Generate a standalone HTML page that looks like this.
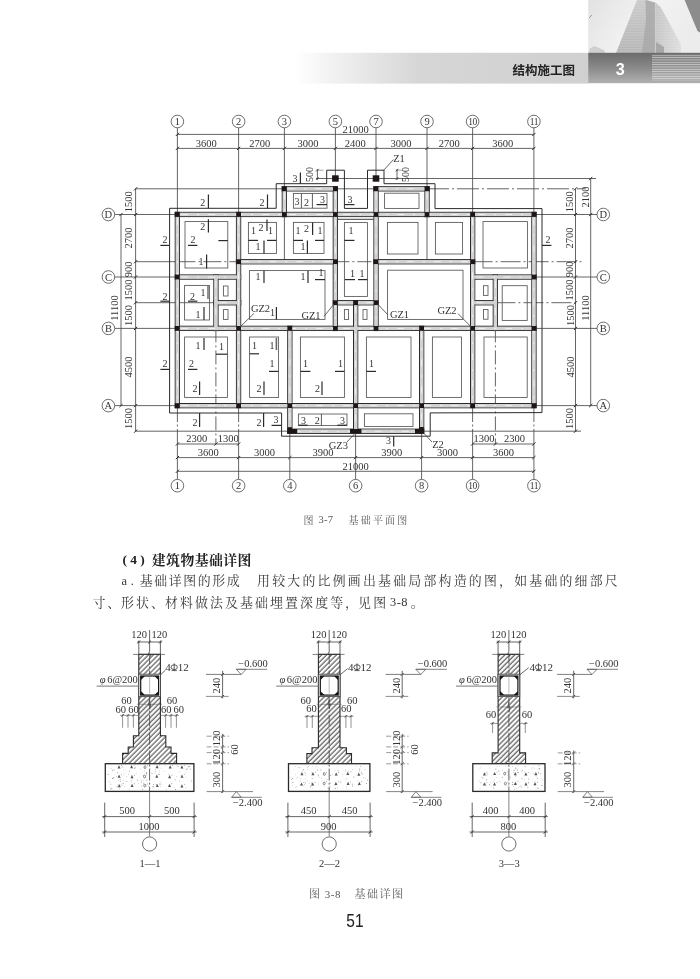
<!DOCTYPE html>
<html lang="zh"><head><meta charset="utf-8"><title>结构施工图 51</title>
<style>html,body{margin:0;padding:0;background:#fff}body{width:700px;height:979px;overflow:hidden;font-family:"Liberation Serif",serif}svg{display:block;will-change:transform;opacity:0.999}</style>
</head><body>
<svg width="700" height="979" viewBox="0 0 700 979">
<defs>
<pattern id="hatch" width="3.5" height="3.5" patternUnits="userSpaceOnUse" patternTransform="rotate(-45)"><rect width="3.5" height="3.5" fill="#fff"/><line x1="0" y1="1" x2="3.5" y2="1" stroke="#2e2e2e" stroke-width="0.95"/></pattern>
<pattern id="conc" width="14.6" height="12.4" x="3" y="766" patternUnits="userSpaceOnUse"><rect width="14.6" height="12.4" fill="#fff"/><path d="M5.2 8.3 l1.3 -2.4 l1.3 2.4 z" fill="#555"/><circle cx="2" cy="3" r="0.4" fill="#666"/><circle cx="9.5" cy="2.2" r="0.35" fill="#666"/><circle cx="12" cy="6.5" r="0.4" fill="#666"/><circle cx="3.2" cy="10.6" r="0.35" fill="#666"/><circle cx="10.4" cy="10.2" r="0.4" fill="#666"/><circle cx="7.4" cy="4.6" r="0.3" fill="#666"/><circle cx="13.2" cy="11.5" r="0.3" fill="#666"/><circle cx="1.2" cy="7.2" r="0.3" fill="#666"/><circle cx="8.8" cy="7.4" r="0.3" fill="#666"/></pattern>
<filter id="soft" x="0" y="0" width="700" height="979" filterUnits="userSpaceOnUse"><feGaussianBlur stdDeviation="0.38"/></filter>
<linearGradient id="lb" x1="0" x2="1" y1="0" y2="0"><stop offset="0" stop-color="#fff"/><stop offset="0.12" stop-color="#f2f2f2"/><stop offset="0.42" stop-color="#d6d6d6"/><stop offset="1" stop-color="#d0d0d0"/></linearGradient>
<linearGradient id="lbv" x1="0" x2="0" y1="0" y2="1"><stop offset="0" stop-color="#fff" stop-opacity="0.0"/><stop offset="0.5" stop-color="#fff" stop-opacity="0.0"/><stop offset="1" stop-color="#fff" stop-opacity="0.12"/></linearGradient>
<linearGradient id="db" x1="0" x2="0" y1="0" y2="1"><stop offset="0" stop-color="#6c6c6c"/><stop offset="0.5" stop-color="#8a8a8a"/><stop offset="1" stop-color="#b0b0b0"/></linearGradient>
<linearGradient id="sky" x1="0" x2="1" y1="0" y2="0.3"><stop offset="0" stop-color="#e2e2e2"/><stop offset="0.55" stop-color="#f3f3f3"/><stop offset="1" stop-color="#ececec"/></linearGradient>
<linearGradient id="bl" x1="0" x2="0" y1="0" y2="1"><stop offset="0" stop-color="#c9c9c9"/><stop offset="1" stop-color="#b4b4b4"/></linearGradient>
<linearGradient id="br" x1="0" x2="1" y1="0" y2="0"><stop offset="0" stop-color="#c4c4c4"/><stop offset="1" stop-color="#dedede"/></linearGradient>
<pattern id="stripes" width="4" height="2.35" patternUnits="userSpaceOnUse"><rect width="4" height="1.1" y="0.6" fill="#fff" fill-opacity="0.55"/></pattern>
<pattern id="floors" width="4" height="1.6" patternUnits="userSpaceOnUse"><rect width="4" height="0.5" fill="#fff" fill-opacity="0.25"/></pattern>
</defs>
<rect width="700" height="979" fill="#fff"/>
<g id="header">
<rect x="296" y="52.8" width="292.4" height="30.8" fill="url(#lb)"/>
<rect x="588.2" y="0" width="111.8" height="53" fill="url(#sky)"/>
<polygon points="616,53 637,0 647,0 654.6,3 654.6,53" fill="url(#bl)"/>
<polygon points="616,53 637,0 647,0 654.6,3 654.6,53" fill="url(#floors)"/>
<polygon points="645.5,0 655.4,2.6 655.6,53 642,53 646,20" fill="#a9a9a9" fill-opacity="0.85"/>
<polygon points="655.4,2.6 660.6,6.9 681,44.6 681,53 655.6,53" fill="url(#br)"/>
<polygon points="655.4,2.6 660.6,6.9 681,44.6 681,53 655.6,53" fill="url(#floors)"/>
<polygon points="656,42 664,47 664,53 656,53" fill="#a8a8a8"/>
<polygon points="684.6,0 700,0 700,32.6 697.5,31" fill="#8c8c8c"/>
<polygon points="589,53 589.6,48.5 594.6,46 599,48 604.5,50.5 605,53" fill="#cfcfcf"/>
<line x1="589" y1="18" x2="592" y2="15" stroke="#888" stroke-width="0.8"/>
<rect x="588.2" y="52.8" width="111.8" height="30.4" fill="url(#db)"/>
<rect x="652" y="54.6" width="48" height="26" fill="url(#stripes)"/>
<text x="620.3" y="75.2" font-family="Liberation Sans, sans-serif" font-size="16.2" font-weight="bold" fill="#fff" text-anchor="middle">3</text>
<text x="512.6 525.05 537.5 549.95 562.4" y="74.5" font-family="'Liberation Sans', 'Noto Sans CJK SC', sans-serif" font-size="12.5" font-weight="bold" fill="#222">结构施工图</text>
</g>
<g filter="url(#soft)">
<g id="plan">
<line x1="177.4" y1="127.8" x2="177.4" y2="214.5" stroke="#4a4a4a" stroke-width="0.85" />
<line x1="238.6" y1="127.8" x2="238.6" y2="214.5" stroke="#4a4a4a" stroke-width="0.85" />
<line x1="284.4" y1="127.8" x2="284.4" y2="261.7" stroke="#4a4a4a" stroke-width="0.85" />
<line x1="335.4" y1="127.8" x2="335.4" y2="178.5" stroke="#4a4a4a" stroke-width="0.85" />
<line x1="376.0" y1="127.8" x2="376.0" y2="178.5" stroke="#4a4a4a" stroke-width="0.85" />
<line x1="427.0" y1="127.8" x2="427.0" y2="261.7" stroke="#4a4a4a" stroke-width="0.85" />
<line x1="472.6" y1="127.8" x2="472.6" y2="214.5" stroke="#4a4a4a" stroke-width="0.85" />
<line x1="533.9" y1="127.8" x2="533.9" y2="214.5" stroke="#4a4a4a" stroke-width="0.85" />
<line x1="177.4" y1="479.4" x2="177.4" y2="444.0" stroke="#4a4a4a" stroke-width="0.85" />
<line x1="177.4" y1="444.0" x2="177.4" y2="405.6" stroke="#4a4a4a" stroke-width="0.85" stroke-dasharray="15 2.5 2 2.5"/>
<line x1="238.6" y1="479.4" x2="238.6" y2="444.0" stroke="#4a4a4a" stroke-width="0.85" />
<line x1="238.6" y1="444.0" x2="238.6" y2="405.6" stroke="#4a4a4a" stroke-width="0.85" stroke-dasharray="15 2.5 2 2.5"/>
<line x1="289.8" y1="479.4" x2="289.8" y2="444.0" stroke="#4a4a4a" stroke-width="0.85" />
<line x1="289.8" y1="444.0" x2="289.8" y2="431.2" stroke="#4a4a4a" stroke-width="0.85" stroke-dasharray="15 2.5 2 2.5"/>
<line x1="355.6" y1="479.4" x2="355.6" y2="444.0" stroke="#4a4a4a" stroke-width="0.85" />
<line x1="355.6" y1="444.0" x2="355.6" y2="431.2" stroke="#4a4a4a" stroke-width="0.85" stroke-dasharray="15 2.5 2 2.5"/>
<line x1="421.6" y1="479.4" x2="421.6" y2="444.0" stroke="#4a4a4a" stroke-width="0.85" />
<line x1="421.6" y1="444.0" x2="421.6" y2="431.2" stroke="#4a4a4a" stroke-width="0.85" stroke-dasharray="15 2.5 2 2.5"/>
<line x1="472.6" y1="479.4" x2="472.6" y2="444.0" stroke="#4a4a4a" stroke-width="0.85" />
<line x1="472.6" y1="444.0" x2="472.6" y2="405.6" stroke="#4a4a4a" stroke-width="0.85" stroke-dasharray="15 2.5 2 2.5"/>
<line x1="533.9" y1="479.4" x2="533.9" y2="444.0" stroke="#4a4a4a" stroke-width="0.85" />
<line x1="533.9" y1="444.0" x2="533.9" y2="405.6" stroke="#4a4a4a" stroke-width="0.85" stroke-dasharray="15 2.5 2 2.5"/>
<line x1="114.7" y1="214.5" x2="177.4" y2="214.5" stroke="#4a4a4a" stroke-width="0.85" />
<line x1="533.9" y1="214.5" x2="597.0" y2="214.5" stroke="#4a4a4a" stroke-width="0.85" />
<line x1="114.7" y1="328.4" x2="177.4" y2="328.4" stroke="#4a4a4a" stroke-width="0.85" />
<line x1="533.9" y1="328.4" x2="597.0" y2="328.4" stroke="#4a4a4a" stroke-width="0.85" />
<line x1="114.7" y1="405.6" x2="177.4" y2="405.6" stroke="#4a4a4a" stroke-width="0.85" />
<line x1="533.9" y1="405.6" x2="597.0" y2="405.6" stroke="#4a4a4a" stroke-width="0.85" />
<line x1="114.7" y1="277.0" x2="177.4" y2="277.0" stroke="#4a4a4a" stroke-width="0.85" />
<line x1="533.9" y1="277.0" x2="597.0" y2="277.0" stroke="#4a4a4a" stroke-width="0.85" />
<line x1="135.6" y1="188.8" x2="284.4" y2="188.8" stroke="#4a4a4a" stroke-width="0.85" />
<line x1="335.4" y1="188.8" x2="376.0" y2="188.8" stroke="#4a4a4a" stroke-width="0.85" />
<line x1="427.0" y1="188.8" x2="586.0" y2="188.8" stroke="#4a4a4a" stroke-width="0.85" stroke-dasharray="22 3 2 3"/>
<line x1="316.0" y1="178.5" x2="596.0" y2="178.5" stroke="#4a4a4a" stroke-width="0.85" />
<line x1="135.6" y1="431.2" x2="289.8" y2="431.2" stroke="#4a4a4a" stroke-width="0.85" />
<line x1="421.6" y1="431.2" x2="581.0" y2="431.2" stroke="#4a4a4a" stroke-width="0.85" />
<line x1="135.6" y1="261.7" x2="177.4" y2="261.7" stroke="#4a4a4a" stroke-width="0.85" />
<line x1="177.4" y1="261.7" x2="238.6" y2="261.7" stroke="#4a4a4a" stroke-width="0.85" stroke-dasharray="18 3 2 3"/>
<line x1="335.4" y1="261.7" x2="376.0" y2="261.7" stroke="#4a4a4a" stroke-width="0.85" stroke-dasharray="14 3 2 3"/>
<line x1="472.6" y1="261.7" x2="581.5" y2="261.7" stroke="#4a4a4a" stroke-width="0.85" stroke-dasharray="20 3 2 3"/>
<line x1="135.6" y1="302.7" x2="215.9" y2="302.7" stroke="#4a4a4a" stroke-width="0.85" />
<line x1="495.4" y1="302.7" x2="575.5" y2="302.7" stroke="#4a4a4a" stroke-width="0.85" stroke-dasharray="20 3 2 3"/>
<line x1="215.9" y1="328.4" x2="215.9" y2="444.0" stroke="#4a4a4a" stroke-width="0.85" stroke-dasharray="14 3 2 3"/>
<line x1="495.4" y1="328.4" x2="495.4" y2="444.0" stroke="#4a4a4a" stroke-width="0.85" stroke-dasharray="14 3 2 3"/>
<rect x="282.2" y="186.7" width="55.3" height="4.3" fill="#d2d2d2" stroke="#2a2a2a" stroke-width="1.0"/>
<rect x="373.9" y="186.7" width="55.3" height="4.3" fill="#d2d2d2" stroke="#2a2a2a" stroke-width="1.0"/>
<rect x="175.2" y="212.3" width="360.8" height="4.3" fill="#d2d2d2" stroke="#2a2a2a" stroke-width="1.0"/>
<rect x="236.4" y="259.6" width="101.1" height="4.3" fill="#d2d2d2" stroke="#2a2a2a" stroke-width="1.0"/>
<rect x="373.9" y="259.6" width="100.9" height="4.3" fill="#d2d2d2" stroke="#2a2a2a" stroke-width="1.0"/>
<rect x="175.2" y="274.9" width="65.5" height="4.3" fill="#d2d2d2" stroke="#2a2a2a" stroke-width="1.0"/>
<rect x="470.5" y="274.9" width="65.6" height="4.3" fill="#d2d2d2" stroke="#2a2a2a" stroke-width="1.0"/>
<rect x="213.8" y="300.6" width="27.0" height="4.3" fill="#d2d2d2" stroke="#2a2a2a" stroke-width="1.0"/>
<rect x="333.2" y="300.6" width="44.9" height="4.3" fill="#d2d2d2" stroke="#2a2a2a" stroke-width="1.0"/>
<rect x="470.5" y="300.6" width="27.1" height="4.3" fill="#d2d2d2" stroke="#2a2a2a" stroke-width="1.0"/>
<rect x="175.2" y="326.2" width="360.8" height="4.3" fill="#d2d2d2" stroke="#2a2a2a" stroke-width="1.0"/>
<rect x="175.2" y="403.5" width="360.8" height="4.3" fill="#d2d2d2" stroke="#2a2a2a" stroke-width="1.0"/>
<rect x="287.7" y="429.1" width="136.1" height="4.3" fill="#d2d2d2" stroke="#2a2a2a" stroke-width="1.0"/>
<rect x="175.2" y="212.3" width="4.3" height="195.4" fill="#d2d2d2" stroke="#2a2a2a" stroke-width="1.0"/>
<rect x="213.8" y="274.9" width="4.3" height="55.7" fill="#d2d2d2" stroke="#2a2a2a" stroke-width="1.0"/>
<rect x="236.4" y="212.3" width="4.3" height="195.4" fill="#d2d2d2" stroke="#2a2a2a" stroke-width="1.0"/>
<rect x="282.2" y="186.7" width="4.3" height="30.0" fill="#d2d2d2" stroke="#2a2a2a" stroke-width="1.0"/>
<rect x="287.7" y="326.2" width="4.3" height="107.1" fill="#d2d2d2" stroke="#2a2a2a" stroke-width="1.0"/>
<rect x="333.2" y="186.7" width="4.3" height="143.9" fill="#d2d2d2" stroke="#2a2a2a" stroke-width="1.0"/>
<rect x="353.5" y="300.6" width="4.3" height="132.8" fill="#d2d2d2" stroke="#2a2a2a" stroke-width="1.0"/>
<rect x="373.9" y="186.7" width="4.3" height="143.9" fill="#d2d2d2" stroke="#2a2a2a" stroke-width="1.0"/>
<rect x="419.5" y="326.2" width="4.3" height="107.1" fill="#d2d2d2" stroke="#2a2a2a" stroke-width="1.0"/>
<rect x="424.9" y="186.7" width="4.3" height="30.0" fill="#d2d2d2" stroke="#2a2a2a" stroke-width="1.0"/>
<rect x="470.5" y="212.3" width="4.3" height="195.4" fill="#d2d2d2" stroke="#2a2a2a" stroke-width="1.0"/>
<rect x="493.2" y="274.9" width="4.3" height="55.7" fill="#d2d2d2" stroke="#2a2a2a" stroke-width="1.0"/>
<rect x="531.8" y="212.3" width="4.3" height="195.4" fill="#d2d2d2" stroke="#2a2a2a" stroke-width="1.0"/>
<rect x="282.8" y="187.2" width="54.3" height="3.3" fill="#d2d2d2"/>
<rect x="374.4" y="187.2" width="54.3" height="3.3" fill="#d2d2d2"/>
<rect x="175.8" y="212.8" width="359.8" height="3.3" fill="#d2d2d2"/>
<rect x="236.9" y="260.1" width="100.1" height="3.3" fill="#d2d2d2"/>
<rect x="374.4" y="260.1" width="99.9" height="3.3" fill="#d2d2d2"/>
<rect x="175.8" y="275.4" width="64.5" height="3.3" fill="#d2d2d2"/>
<rect x="471.0" y="275.4" width="64.6" height="3.3" fill="#d2d2d2"/>
<rect x="214.2" y="301.1" width="26.0" height="3.3" fill="#d2d2d2"/>
<rect x="333.8" y="301.1" width="43.9" height="3.3" fill="#d2d2d2"/>
<rect x="471.0" y="301.1" width="26.1" height="3.3" fill="#d2d2d2"/>
<rect x="175.8" y="326.8" width="359.8" height="3.3" fill="#d2d2d2"/>
<rect x="175.8" y="404.0" width="359.8" height="3.3" fill="#d2d2d2"/>
<rect x="288.2" y="429.6" width="135.1" height="3.3" fill="#d2d2d2"/>
<rect x="175.8" y="212.8" width="3.3" height="194.4" fill="#d2d2d2"/>
<rect x="214.2" y="275.4" width="3.3" height="54.7" fill="#d2d2d2"/>
<rect x="236.9" y="212.8" width="3.3" height="194.4" fill="#d2d2d2"/>
<rect x="282.8" y="187.2" width="3.3" height="29.0" fill="#d2d2d2"/>
<rect x="288.2" y="326.8" width="3.3" height="106.1" fill="#d2d2d2"/>
<rect x="333.8" y="187.2" width="3.3" height="142.9" fill="#d2d2d2"/>
<rect x="354.0" y="301.1" width="3.3" height="131.8" fill="#d2d2d2"/>
<rect x="374.4" y="187.2" width="3.3" height="142.9" fill="#d2d2d2"/>
<rect x="420.0" y="326.8" width="3.3" height="106.1" fill="#d2d2d2"/>
<rect x="425.4" y="187.2" width="3.3" height="29.0" fill="#d2d2d2"/>
<rect x="471.0" y="212.8" width="3.3" height="194.4" fill="#d2d2d2"/>
<rect x="493.8" y="275.4" width="3.3" height="54.7" fill="#d2d2d2"/>
<rect x="532.2" y="212.8" width="3.3" height="194.4" fill="#d2d2d2"/>
<line x1="288.2" y1="188.8" x2="331.5" y2="188.8" stroke="#fff" stroke-width="0.7" stroke-dasharray="7 9 2 9"/>
<line x1="379.9" y1="188.8" x2="423.1" y2="188.8" stroke="#fff" stroke-width="0.7" stroke-dasharray="7 9 2 9"/>
<line x1="181.2" y1="214.5" x2="530.0" y2="214.5" stroke="#fff" stroke-width="0.7" stroke-dasharray="7 9 2 9"/>
<line x1="242.4" y1="261.7" x2="331.5" y2="261.7" stroke="#fff" stroke-width="0.7" stroke-dasharray="7 9 2 9"/>
<line x1="379.9" y1="261.7" x2="468.8" y2="261.7" stroke="#fff" stroke-width="0.7" stroke-dasharray="7 9 2 9"/>
<line x1="181.2" y1="277.0" x2="234.8" y2="277.0" stroke="#fff" stroke-width="0.7" stroke-dasharray="7 9 2 9"/>
<line x1="476.5" y1="277.0" x2="530.0" y2="277.0" stroke="#fff" stroke-width="0.7" stroke-dasharray="7 9 2 9"/>
<line x1="219.8" y1="302.7" x2="234.8" y2="302.7" stroke="#fff" stroke-width="0.7" stroke-dasharray="7 9 2 9"/>
<line x1="339.2" y1="302.7" x2="372.1" y2="302.7" stroke="#fff" stroke-width="0.7" stroke-dasharray="7 9 2 9"/>
<line x1="476.5" y1="302.7" x2="491.5" y2="302.7" stroke="#fff" stroke-width="0.7" stroke-dasharray="7 9 2 9"/>
<line x1="181.2" y1="328.4" x2="530.0" y2="328.4" stroke="#fff" stroke-width="0.7" stroke-dasharray="7 9 2 9"/>
<line x1="181.2" y1="405.6" x2="530.0" y2="405.6" stroke="#fff" stroke-width="0.7" stroke-dasharray="7 9 2 9"/>
<line x1="293.7" y1="431.2" x2="417.8" y2="431.2" stroke="#fff" stroke-width="0.7" stroke-dasharray="7 9 2 9"/>
<line x1="177.4" y1="218.3" x2="177.4" y2="401.8" stroke="#fff" stroke-width="0.7" stroke-dasharray="7 9 2 9"/>
<line x1="215.9" y1="280.9" x2="215.9" y2="324.5" stroke="#fff" stroke-width="0.7" stroke-dasharray="7 9 2 9"/>
<line x1="238.6" y1="218.3" x2="238.6" y2="401.8" stroke="#fff" stroke-width="0.7" stroke-dasharray="7 9 2 9"/>
<line x1="284.4" y1="192.7" x2="284.4" y2="210.7" stroke="#fff" stroke-width="0.7" stroke-dasharray="7 9 2 9"/>
<line x1="289.8" y1="332.2" x2="289.8" y2="427.3" stroke="#fff" stroke-width="0.7" stroke-dasharray="7 9 2 9"/>
<line x1="335.4" y1="192.7" x2="335.4" y2="324.5" stroke="#fff" stroke-width="0.7" stroke-dasharray="7 9 2 9"/>
<line x1="355.6" y1="306.6" x2="355.6" y2="427.3" stroke="#fff" stroke-width="0.7" stroke-dasharray="7 9 2 9"/>
<line x1="376.0" y1="192.7" x2="376.0" y2="324.5" stroke="#fff" stroke-width="0.7" stroke-dasharray="7 9 2 9"/>
<line x1="421.6" y1="332.2" x2="421.6" y2="427.3" stroke="#fff" stroke-width="0.7" stroke-dasharray="7 9 2 9"/>
<line x1="427.0" y1="192.7" x2="427.0" y2="210.7" stroke="#fff" stroke-width="0.7" stroke-dasharray="7 9 2 9"/>
<line x1="472.6" y1="218.3" x2="472.6" y2="401.8" stroke="#fff" stroke-width="0.7" stroke-dasharray="7 9 2 9"/>
<line x1="495.4" y1="280.9" x2="495.4" y2="324.5" stroke="#fff" stroke-width="0.7" stroke-dasharray="7 9 2 9"/>
<line x1="533.9" y1="218.3" x2="533.9" y2="401.8" stroke="#fff" stroke-width="0.7" stroke-dasharray="7 9 2 9"/>
<line x1="337.5" y1="219.3" x2="373.9" y2="219.3" stroke="#2a2a2a" stroke-width="0.9" />
<rect x="175.0" y="212.1" width="4.8" height="4.8" fill="#1c1414"/>
<rect x="236.2" y="212.1" width="4.8" height="4.8" fill="#1c1414"/>
<rect x="282.0" y="212.1" width="4.8" height="4.8" fill="#1c1414"/>
<rect x="333.0" y="212.1" width="4.8" height="4.8" fill="#1c1414"/>
<rect x="373.6" y="212.1" width="4.8" height="4.8" fill="#1c1414"/>
<rect x="424.6" y="212.1" width="4.8" height="4.8" fill="#1c1414"/>
<rect x="470.2" y="212.1" width="4.8" height="4.8" fill="#1c1414"/>
<rect x="531.5" y="212.1" width="4.8" height="4.8" fill="#1c1414"/>
<rect x="282.0" y="186.4" width="4.8" height="4.8" fill="#1c1414"/>
<rect x="333.0" y="186.4" width="4.8" height="4.8" fill="#1c1414"/>
<rect x="373.6" y="186.4" width="4.8" height="4.8" fill="#1c1414"/>
<rect x="424.6" y="186.4" width="4.8" height="4.8" fill="#1c1414"/>
<rect x="236.2" y="259.3" width="4.8" height="4.8" fill="#1c1414"/>
<rect x="333.0" y="259.3" width="4.8" height="4.8" fill="#1c1414"/>
<rect x="373.6" y="259.3" width="4.8" height="4.8" fill="#1c1414"/>
<rect x="470.2" y="259.3" width="4.8" height="4.8" fill="#1c1414"/>
<rect x="175.0" y="274.6" width="4.8" height="4.8" fill="#1c1414"/>
<rect x="531.5" y="274.6" width="4.8" height="4.8" fill="#1c1414"/>
<rect x="333.0" y="300.3" width="4.8" height="4.8" fill="#1c1414"/>
<rect x="353.2" y="300.3" width="4.8" height="4.8" fill="#1c1414"/>
<rect x="373.6" y="300.3" width="4.8" height="4.8" fill="#1c1414"/>
<rect x="175.0" y="326.0" width="4.8" height="4.8" fill="#1c1414"/>
<rect x="236.2" y="326.0" width="4.8" height="4.8" fill="#1c1414"/>
<rect x="287.4" y="326.0" width="4.8" height="4.8" fill="#1c1414"/>
<rect x="333.0" y="326.0" width="4.8" height="4.8" fill="#1c1414"/>
<rect x="373.6" y="326.0" width="4.8" height="4.8" fill="#1c1414"/>
<rect x="419.2" y="326.0" width="4.8" height="4.8" fill="#1c1414"/>
<rect x="470.2" y="326.0" width="4.8" height="4.8" fill="#1c1414"/>
<rect x="531.5" y="326.0" width="4.8" height="4.8" fill="#1c1414"/>
<rect x="175.0" y="403.2" width="4.8" height="4.8" fill="#1c1414"/>
<rect x="236.2" y="403.2" width="4.8" height="4.8" fill="#1c1414"/>
<rect x="287.4" y="403.2" width="4.8" height="4.8" fill="#1c1414"/>
<rect x="353.2" y="403.2" width="4.8" height="4.8" fill="#1c1414"/>
<rect x="419.2" y="403.2" width="4.8" height="4.8" fill="#1c1414"/>
<rect x="470.2" y="403.2" width="4.8" height="4.8" fill="#1c1414"/>
<rect x="531.5" y="403.2" width="4.8" height="4.8" fill="#1c1414"/>
<rect x="332.1" y="175.3" width="6.6" height="6.4" fill="#1c1414"/>
<rect x="372.7" y="175.3" width="6.6" height="6.4" fill="#1c1414"/>
<rect x="287.6" y="427.2" width="4.4" height="6.2" fill="#1c1414"/><rect x="287.6" y="429" width="9.6" height="4.4" fill="#1c1414"/>
<rect x="350" y="429" width="11.4" height="4.4" fill="#1c1414"/>
<rect x="419.4" y="427" width="4.4" height="6.4" fill="#1c1414"/><rect x="415" y="429" width="8.8" height="4.4" fill="#1c1414"/>
<path d="M169.6 208.3 L276.2 208.3 L276.2 183.7 L326.7 183.7 L326.7 170.2 L344.4 170.2 L344.4 208.4 L367.5 208.4 L367.5 170.2 L384.0 170.2 L384.0 183.7 L435.0 183.7 L435.0 208.6 L542.0 208.6 L542.0 412.6 L430.2 412.9 L430.2 436.2 L281.6 436.2 L281.6 413.0 L169.6 413.0 Z" fill="none" stroke="#2a2a2a" stroke-width="1.0" />
<rect x="185.0" y="221.6" width="42.8" height="46.4" fill="none" stroke="#555" stroke-width="0.85"/>
<rect x="248.4" y="222.4" width="28.0" height="31.0" fill="none" stroke="#555" stroke-width="0.85"/>
<rect x="293.4" y="222.4" width="30.6" height="31.0" fill="none" stroke="#555" stroke-width="0.85"/>
<rect x="344.4" y="222.6" width="23.0" height="73.8" fill="none" stroke="#555" stroke-width="0.85"/>
<rect x="387.4" y="222.4" width="30.6" height="31.6" fill="none" stroke="#555" stroke-width="0.85"/>
<rect x="435.4" y="222.4" width="27.2" height="31.6" fill="none" stroke="#555" stroke-width="0.85"/>
<rect x="483.0" y="221.6" width="44.4" height="46.4" fill="none" stroke="#555" stroke-width="0.85"/>
<rect x="293.4" y="193.4" width="33.6" height="14.8" fill="none" stroke="#555" stroke-width="0.85"/>
<rect x="384.6" y="193.2" width="34.4" height="15.2" fill="none" stroke="#555" stroke-width="0.85"/>
<rect x="184.6" y="285.4" width="24.8" height="34.6" fill="none" stroke="#555" stroke-width="0.85"/>
<rect x="223.4" y="286.0" width="4.6" height="10.0" fill="none" stroke="#555" stroke-width="0.85"/>
<rect x="223.4" y="309.6" width="4.6" height="9.8" fill="none" stroke="#555" stroke-width="0.85"/>
<rect x="249.4" y="270.6" width="75.6" height="48.8" fill="none" stroke="#555" stroke-width="0.85"/>
<rect x="344.4" y="309.6" width="4.2" height="9.8" fill="none" stroke="#555" stroke-width="0.85"/>
<rect x="363.0" y="309.6" width="4.0" height="9.8" fill="none" stroke="#555" stroke-width="0.85"/>
<rect x="387.6" y="270.2" width="75.4" height="49.2" fill="none" stroke="#555" stroke-width="0.85"/>
<rect x="483.5" y="285.7" width="4.5" height="9.7" fill="none" stroke="#555" stroke-width="0.85"/>
<rect x="483.5" y="309.5" width="4.5" height="9.7" fill="none" stroke="#555" stroke-width="0.85"/>
<rect x="502.2" y="285.7" width="25.0" height="34.7" fill="none" stroke="#555" stroke-width="0.85"/>
<rect x="184.6" y="337.0" width="42.8" height="60.4" fill="none" stroke="#555" stroke-width="0.85"/>
<rect x="249.6" y="337.0" width="29.0" height="60.4" fill="none" stroke="#555" stroke-width="0.85"/>
<rect x="300.4" y="337.0" width="44.0" height="60.4" fill="none" stroke="#555" stroke-width="0.85"/>
<rect x="366.4" y="337.0" width="44.6" height="60.4" fill="none" stroke="#555" stroke-width="0.85"/>
<rect x="432.4" y="337.0" width="29.0" height="60.4" fill="none" stroke="#555" stroke-width="0.85"/>
<rect x="484.0" y="337.0" width="43.2" height="60.5" fill="none" stroke="#555" stroke-width="0.85"/>
<rect x="298.4" y="414.0" width="48.6" height="11.6" fill="none" stroke="#555" stroke-width="0.85"/>
<rect x="364.4" y="413.8" width="48.6" height="12.6" fill="none" stroke="#555" stroke-width="0.85"/>
<line x1="301.4" y1="193.4" x2="301.4" y2="208.2" stroke="#484848" stroke-width="0.9" />
<line x1="312.4" y1="193.4" x2="312.4" y2="208.2" stroke="#484848" stroke-width="0.9" />
<line x1="321.4" y1="414.0" x2="321.4" y2="425.6" stroke="#484848" stroke-width="0.9" />
<line x1="248.4" y1="240.4" x2="258.0" y2="240.4" stroke="#2a2a2a" stroke-width="1.2" />
<line x1="267.0" y1="240.4" x2="276.4" y2="240.4" stroke="#2a2a2a" stroke-width="1.2" />
<line x1="264.0" y1="240.4" x2="264.0" y2="253.4" stroke="#2a2a2a" stroke-width="1.2" />
<line x1="267.0" y1="219.5" x2="267.0" y2="231.0" stroke="#2a2a2a" stroke-width="1.2" />
<text x="253.5" y="233.8" font-family="Liberation Serif, serif" font-size="10.0" text-anchor="middle" fill="#333" font-weight="normal" >1</text>
<text x="270.5" y="234.3" font-family="Liberation Serif, serif" font-size="10.0" text-anchor="middle" fill="#333" font-weight="normal" >1</text>
<text x="261.0" y="230.8" font-family="Liberation Serif, serif" font-size="10.0" text-anchor="middle" fill="#333" font-weight="normal" >2</text>
<text x="258.0" y="250.3" font-family="Liberation Serif, serif" font-size="10.0" text-anchor="middle" fill="#333" font-weight="normal" >1</text>
<line x1="293.4" y1="240.4" x2="303.0" y2="240.4" stroke="#2a2a2a" stroke-width="1.2" />
<line x1="315.0" y1="240.4" x2="324.0" y2="240.4" stroke="#2a2a2a" stroke-width="1.2" />
<line x1="307.4" y1="240.4" x2="307.4" y2="253.4" stroke="#2a2a2a" stroke-width="1.2" />
<line x1="312.6" y1="222.4" x2="312.6" y2="235.0" stroke="#2a2a2a" stroke-width="1.2" />
<text x="298.0" y="234.3" font-family="Liberation Serif, serif" font-size="10.0" text-anchor="middle" fill="#333" font-weight="normal" >1</text>
<text x="320.0" y="234.3" font-family="Liberation Serif, serif" font-size="10.0" text-anchor="middle" fill="#333" font-weight="normal" >1</text>
<text x="306.5" y="232.3" font-family="Liberation Serif, serif" font-size="10.0" text-anchor="middle" fill="#333" font-weight="normal" >2</text>
<text x="303.0" y="250.3" font-family="Liberation Serif, serif" font-size="10.0" text-anchor="middle" fill="#333" font-weight="normal" >1</text>
<text x="297.0" y="205.3" font-family="Liberation Serif, serif" font-size="10.0" text-anchor="middle" fill="#333" font-weight="normal" >3</text>
<text x="306.5" y="206.3" font-family="Liberation Serif, serif" font-size="10.0" text-anchor="middle" fill="#333" font-weight="normal" >2</text>
<text x="322.5" y="202.8" font-family="Liberation Serif, serif" font-size="10.0" text-anchor="middle" fill="#333" font-weight="normal" >3</text>
<line x1="316.5" y1="204.6" x2="327.0" y2="204.6" stroke="#2a2a2a" stroke-width="1.2" />
<line x1="300.4" y1="172.4" x2="300.4" y2="183.7" stroke="#2a2a2a" stroke-width="1.2" />
<text x="295.0" y="181.8" font-family="Liberation Serif, serif" font-size="10.0" text-anchor="middle" fill="#333" font-weight="normal" >3</text>
<text x="350.0" y="203.1" font-family="Liberation Serif, serif" font-size="10.0" text-anchor="middle" fill="#333" font-weight="normal" >3</text>
<line x1="345.0" y1="204.6" x2="354.5" y2="204.6" stroke="#2a2a2a" stroke-width="1.2" />
<line x1="208.4" y1="194.5" x2="208.4" y2="208.3" stroke="#2a2a2a" stroke-width="1.2" />
<text x="202.7" y="205.8" font-family="Liberation Serif, serif" font-size="10.0" text-anchor="middle" fill="#333" font-weight="normal" >2</text>
<line x1="267.5" y1="194.5" x2="267.5" y2="208.3" stroke="#2a2a2a" stroke-width="1.2" />
<text x="262.0" y="205.8" font-family="Liberation Serif, serif" font-size="10.0" text-anchor="middle" fill="#333" font-weight="normal" >2</text>
<line x1="208.4" y1="219.2" x2="208.4" y2="232.6" stroke="#2a2a2a" stroke-width="1.2" />
<text x="202.7" y="229.6" font-family="Liberation Serif, serif" font-size="10.0" text-anchor="middle" fill="#333" font-weight="normal" >2</text>
<text x="193.0" y="243.3" font-family="Liberation Serif, serif" font-size="10.0" text-anchor="middle" fill="#333" font-weight="normal" >2</text>
<line x1="188.0" y1="245.4" x2="197.4" y2="245.4" stroke="#2a2a2a" stroke-width="1.2" />
<line x1="218.4" y1="240.6" x2="227.8" y2="240.6" stroke="#2a2a2a" stroke-width="1.2" />
<line x1="206.6" y1="254.4" x2="206.6" y2="268.4" stroke="#2a2a2a" stroke-width="1.2" />
<text x="201.0" y="264.8" font-family="Liberation Serif, serif" font-size="10.0" text-anchor="middle" fill="#333" font-weight="normal" >1</text>
<text x="165.0" y="243.3" font-family="Liberation Serif, serif" font-size="10.0" text-anchor="middle" fill="#333" font-weight="normal" >2</text>
<line x1="160.4" y1="245.4" x2="169.6" y2="245.4" stroke="#2a2a2a" stroke-width="1.2" />
<text x="351.0" y="234.3" font-family="Liberation Serif, serif" font-size="10.0" text-anchor="middle" fill="#333" font-weight="normal" >1</text>
<line x1="344.4" y1="240.4" x2="354.5" y2="240.4" stroke="#2a2a2a" stroke-width="1.2" />
<text x="352.4" y="277.3" font-family="Liberation Serif, serif" font-size="10.0" text-anchor="middle" fill="#333" font-weight="normal" >1</text>
<text x="362.0" y="277.3" font-family="Liberation Serif, serif" font-size="10.0" text-anchor="middle" fill="#333" font-weight="normal" >1</text>
<line x1="345.0" y1="279.6" x2="355.0" y2="279.6" stroke="#2a2a2a" stroke-width="1.2" />
<line x1="358.0" y1="279.6" x2="367.4" y2="279.6" stroke="#2a2a2a" stroke-width="1.2" />
<text x="548.0" y="243.3" font-family="Liberation Serif, serif" font-size="10.0" text-anchor="middle" fill="#333" font-weight="normal" >2</text>
<line x1="542.0" y1="245.4" x2="551.4" y2="245.4" stroke="#2a2a2a" stroke-width="1.2" />
<text x="165.0" y="299.5" font-family="Liberation Serif, serif" font-size="10.0" text-anchor="middle" fill="#333" font-weight="normal" >2</text>
<line x1="160.4" y1="301.2" x2="169.6" y2="301.2" stroke="#2a2a2a" stroke-width="1.2" />
<text x="192.6" y="299.5" font-family="Liberation Serif, serif" font-size="10.0" text-anchor="middle" fill="#333" font-weight="normal" >2</text>
<line x1="188.0" y1="301.2" x2="197.4" y2="301.2" stroke="#2a2a2a" stroke-width="1.2" />
<text x="203.0" y="296.3" font-family="Liberation Serif, serif" font-size="10.0" text-anchor="middle" fill="#333" font-weight="normal" >1</text>
<line x1="208.0" y1="286.0" x2="208.0" y2="299.0" stroke="#777" stroke-width="1.6" />
<text x="198.0" y="317.7" font-family="Liberation Serif, serif" font-size="10.0" text-anchor="middle" fill="#333" font-weight="normal" >1</text>
<line x1="204.0" y1="307.0" x2="204.0" y2="320.0" stroke="#2a2a2a" stroke-width="1.2" />
<text x="258.0" y="279.9" font-family="Liberation Serif, serif" font-size="10.0" text-anchor="middle" fill="#333" font-weight="normal" >1</text>
<line x1="264.0" y1="270.8" x2="264.0" y2="283.0" stroke="#2a2a2a" stroke-width="1.2" />
<text x="303.0" y="279.9" font-family="Liberation Serif, serif" font-size="10.0" text-anchor="middle" fill="#333" font-weight="normal" >1</text>
<line x1="308.0" y1="270.8" x2="308.0" y2="283.0" stroke="#2a2a2a" stroke-width="1.2" />
<text x="321.0" y="275.8" font-family="Liberation Serif, serif" font-size="10.0" text-anchor="middle" fill="#333" font-weight="normal" >1</text>
<line x1="315.0" y1="279.6" x2="325.0" y2="279.6" stroke="#2a2a2a" stroke-width="1.2" />
<text x="272.6" y="316.3" font-family="Liberation Serif, serif" font-size="10.0" text-anchor="middle" fill="#333" font-weight="normal" >1</text>
<line x1="276.4" y1="307.0" x2="276.4" y2="319.6" stroke="#2a2a2a" stroke-width="1.2" />
<text x="198.0" y="348.9" font-family="Liberation Serif, serif" font-size="10.0" text-anchor="middle" fill="#333" font-weight="normal" >1</text>
<line x1="204.0" y1="338.0" x2="204.0" y2="350.0" stroke="#2a2a2a" stroke-width="1.2" />
<text x="221.4" y="350.3" font-family="Liberation Serif, serif" font-size="10.0" text-anchor="middle" fill="#333" font-weight="normal" >1</text>
<line x1="216.0" y1="354.2" x2="227.4" y2="354.2" stroke="#2a2a2a" stroke-width="1.2" />
<text x="165.0" y="367.3" font-family="Liberation Serif, serif" font-size="10.0" text-anchor="middle" fill="#333" font-weight="normal" >2</text>
<line x1="160.4" y1="369.4" x2="169.6" y2="369.4" stroke="#2a2a2a" stroke-width="1.2" />
<text x="191.6" y="367.3" font-family="Liberation Serif, serif" font-size="10.0" text-anchor="middle" fill="#333" font-weight="normal" >2</text>
<line x1="188.0" y1="369.4" x2="197.4" y2="369.4" stroke="#2a2a2a" stroke-width="1.2" />
<text x="195.0" y="392.3" font-family="Liberation Serif, serif" font-size="10.0" text-anchor="middle" fill="#333" font-weight="normal" >2</text>
<line x1="199.6" y1="381.4" x2="199.6" y2="395.0" stroke="#2a2a2a" stroke-width="1.2" />
<text x="195.0" y="425.9" font-family="Liberation Serif, serif" font-size="10.0" text-anchor="middle" fill="#333" font-weight="normal" >2</text>
<line x1="199.6" y1="413.0" x2="199.6" y2="427.0" stroke="#2a2a2a" stroke-width="1.2" />
<text x="254.4" y="348.9" font-family="Liberation Serif, serif" font-size="10.0" text-anchor="middle" fill="#333" font-weight="normal" >1</text>
<line x1="249.6" y1="353.8" x2="259.0" y2="353.8" stroke="#2a2a2a" stroke-width="1.2" />
<text x="272.0" y="348.9" font-family="Liberation Serif, serif" font-size="10.0" text-anchor="middle" fill="#333" font-weight="normal" >1</text>
<line x1="276.4" y1="338.0" x2="276.4" y2="350.0" stroke="#666" stroke-width="1.6" />
<text x="272.0" y="367.3" font-family="Liberation Serif, serif" font-size="10.0" text-anchor="middle" fill="#333" font-weight="normal" >1</text>
<line x1="269.0" y1="371.4" x2="278.6" y2="371.4" stroke="#2a2a2a" stroke-width="1.2" />
<text x="259.0" y="392.3" font-family="Liberation Serif, serif" font-size="10.0" text-anchor="middle" fill="#333" font-weight="normal" >2</text>
<line x1="264.0" y1="381.4" x2="264.0" y2="395.0" stroke="#2a2a2a" stroke-width="1.2" />
<text x="259.0" y="425.9" font-family="Liberation Serif, serif" font-size="10.0" text-anchor="middle" fill="#333" font-weight="normal" >2</text>
<line x1="263.6" y1="413.0" x2="263.6" y2="427.0" stroke="#2a2a2a" stroke-width="1.2" />
<text x="276.0" y="423.3" font-family="Liberation Serif, serif" font-size="10.0" text-anchor="middle" fill="#333" font-weight="normal" >3</text>
<line x1="271.6" y1="425.4" x2="281.6" y2="425.4" stroke="#2a2a2a" stroke-width="1.2" />
<text x="305.6" y="367.3" font-family="Liberation Serif, serif" font-size="10.0" text-anchor="middle" fill="#333" font-weight="normal" >1</text>
<line x1="300.4" y1="371.4" x2="310.4" y2="371.4" stroke="#2a2a2a" stroke-width="1.2" />
<text x="340.5" y="367.3" font-family="Liberation Serif, serif" font-size="10.0" text-anchor="middle" fill="#333" font-weight="normal" >1</text>
<line x1="335.0" y1="371.4" x2="344.4" y2="371.4" stroke="#2a2a2a" stroke-width="1.2" />
<text x="317.4" y="392.3" font-family="Liberation Serif, serif" font-size="10.0" text-anchor="middle" fill="#333" font-weight="normal" >2</text>
<line x1="322.0" y1="381.4" x2="322.0" y2="395.0" stroke="#2a2a2a" stroke-width="1.2" />
<text x="371.6" y="367.3" font-family="Liberation Serif, serif" font-size="10.0" text-anchor="middle" fill="#333" font-weight="normal" >1</text>
<line x1="366.4" y1="371.4" x2="376.0" y2="371.4" stroke="#2a2a2a" stroke-width="1.2" />
<text x="303.4" y="423.5" font-family="Liberation Serif, serif" font-size="10.0" text-anchor="middle" fill="#333" font-weight="normal" >3</text>
<line x1="298.4" y1="425.2" x2="307.6" y2="425.2" stroke="#2a2a2a" stroke-width="1.2" />
<text x="317.2" y="424.3" font-family="Liberation Serif, serif" font-size="10.0" text-anchor="middle" fill="#333" font-weight="normal" >2</text>
<text x="342.4" y="423.5" font-family="Liberation Serif, serif" font-size="10.0" text-anchor="middle" fill="#333" font-weight="normal" >3</text>
<line x1="337.4" y1="425.2" x2="347.0" y2="425.2" stroke="#2a2a2a" stroke-width="1.2" />
<text x="388.6" y="443.9" font-family="Liberation Serif, serif" font-size="10.0" text-anchor="middle" fill="#333" font-weight="normal" >3</text>
<line x1="393.7" y1="436.2" x2="393.7" y2="446.4" stroke="#2a2a2a" stroke-width="1.2" />
<text x="399.0" y="162.0" font-family="Liberation Serif, serif" font-size="10.5" text-anchor="middle" fill="#333" font-weight="normal" >Z1</text>
<line x1="383.0" y1="171.0" x2="393.5" y2="159.5" stroke="#4a4a4a" stroke-width="0.85" />
<text x="260.5" y="311.6" font-family="Liberation Serif, serif" font-size="10.5" text-anchor="middle" fill="#333" font-weight="normal" >GZ2</text>
<line x1="239.6" y1="327.4" x2="254.0" y2="313.4" stroke="#4a4a4a" stroke-width="0.85" />
<text x="311.0" y="318.8" font-family="Liberation Serif, serif" font-size="10.5" text-anchor="middle" fill="#333" font-weight="normal" >GZ1</text>
<line x1="324.0" y1="316.4" x2="334.0" y2="304.0" stroke="#4a4a4a" stroke-width="0.85" />
<text x="399.5" y="318.0" font-family="Liberation Serif, serif" font-size="10.5" text-anchor="middle" fill="#333" font-weight="normal" >GZ1</text>
<line x1="377.4" y1="303.8" x2="388.0" y2="315.0" stroke="#4a4a4a" stroke-width="0.85" />
<text x="447.0" y="313.6" font-family="Liberation Serif, serif" font-size="10.5" text-anchor="middle" fill="#333" font-weight="normal" >GZ2</text>
<line x1="458.0" y1="313.6" x2="471.6" y2="327.4" stroke="#4a4a4a" stroke-width="0.85" />
<text x="338.3" y="448.6" font-family="Liberation Serif, serif" font-size="10.5" text-anchor="middle" fill="#333" font-weight="normal" >GZ3</text>
<line x1="355.0" y1="433.4" x2="347.0" y2="442.0" stroke="#4a4a4a" stroke-width="0.85" />
<text x="438.0" y="448.0" font-family="Liberation Serif, serif" font-size="10.5" text-anchor="middle" fill="#333" font-weight="normal" >Z2</text>
<line x1="424.0" y1="433.4" x2="432.0" y2="442.0" stroke="#4a4a4a" stroke-width="0.85" />
<line x1="317.4" y1="169.0" x2="317.4" y2="180.0" stroke="#4a4a4a" stroke-width="0.85" />
<line x1="316.1" y1="171.5" x2="318.7" y2="168.9" stroke="#2a2a2a" stroke-width="0.8" />
<line x1="316.1" y1="179.8" x2="318.7" y2="177.2" stroke="#2a2a2a" stroke-width="0.8" />
<line x1="316.4" y1="170.2" x2="323.4" y2="170.2" stroke="#4a4a4a" stroke-width="0.5" />
<line x1="397.0" y1="169.0" x2="397.0" y2="180.0" stroke="#4a4a4a" stroke-width="0.85" />
<line x1="395.7" y1="171.5" x2="398.3" y2="168.9" stroke="#2a2a2a" stroke-width="0.8" />
<line x1="395.7" y1="179.8" x2="398.3" y2="177.2" stroke="#2a2a2a" stroke-width="0.8" />
<line x1="396.0" y1="170.2" x2="403.0" y2="170.2" stroke="#4a4a4a" stroke-width="0.5" />
<text x="312.8" y="174.4" font-family="Liberation Serif, serif" font-size="10" text-anchor="middle" fill="#333" font-weight="normal" transform="rotate(-90 312.8 174.4)" >500</text>
<text x="409.0" y="174.4" font-family="Liberation Serif, serif" font-size="10" text-anchor="middle" fill="#333" font-weight="normal" transform="rotate(-90 409.0 174.4)" >500</text>
<line x1="177.4" y1="134.4" x2="533.9" y2="134.4" stroke="#4a4a4a" stroke-width="0.85" />
<line x1="177.4" y1="148.4" x2="533.9" y2="148.4" stroke="#4a4a4a" stroke-width="0.85" />
<line x1="175.8" y1="136.0" x2="179.0" y2="132.8" stroke="#2a2a2a" stroke-width="1.0" />
<line x1="532.3" y1="136.0" x2="535.5" y2="132.8" stroke="#2a2a2a" stroke-width="1.0" />
<line x1="175.8" y1="150.0" x2="179.0" y2="146.8" stroke="#2a2a2a" stroke-width="1.0" />
<line x1="237.0" y1="150.0" x2="240.2" y2="146.8" stroke="#2a2a2a" stroke-width="1.0" />
<line x1="282.8" y1="150.0" x2="286.0" y2="146.8" stroke="#2a2a2a" stroke-width="1.0" />
<line x1="333.8" y1="150.0" x2="337.0" y2="146.8" stroke="#2a2a2a" stroke-width="1.0" />
<line x1="374.4" y1="150.0" x2="377.6" y2="146.8" stroke="#2a2a2a" stroke-width="1.0" />
<line x1="425.4" y1="150.0" x2="428.6" y2="146.8" stroke="#2a2a2a" stroke-width="1.0" />
<line x1="471.0" y1="150.0" x2="474.2" y2="146.8" stroke="#2a2a2a" stroke-width="1.0" />
<line x1="532.3" y1="150.0" x2="535.5" y2="146.8" stroke="#2a2a2a" stroke-width="1.0" />
<text x="206.2" y="146.6" font-family="Liberation Serif, serif" font-size="10.5" text-anchor="middle" fill="#333" font-weight="normal" >3600</text>
<text x="259.7" y="146.6" font-family="Liberation Serif, serif" font-size="10.5" text-anchor="middle" fill="#333" font-weight="normal" >2700</text>
<text x="308.1" y="146.6" font-family="Liberation Serif, serif" font-size="10.5" text-anchor="middle" fill="#333" font-weight="normal" >3000</text>
<text x="355.2" y="146.6" font-family="Liberation Serif, serif" font-size="10.5" text-anchor="middle" fill="#333" font-weight="normal" >2400</text>
<text x="401.0" y="146.6" font-family="Liberation Serif, serif" font-size="10.5" text-anchor="middle" fill="#333" font-weight="normal" >3000</text>
<text x="449.3" y="146.6" font-family="Liberation Serif, serif" font-size="10.5" text-anchor="middle" fill="#333" font-weight="normal" >2700</text>
<text x="502.8" y="146.6" font-family="Liberation Serif, serif" font-size="10.5" text-anchor="middle" fill="#333" font-weight="normal" >3600</text>
<text x="355.6" y="132.8" font-family="Liberation Serif, serif" font-size="10.5" text-anchor="middle" fill="#333" font-weight="normal" >21000</text>
<line x1="177.4" y1="444.0" x2="238.6" y2="444.0" stroke="#4a4a4a" stroke-width="0.85" />
<line x1="472.6" y1="444.0" x2="533.9" y2="444.0" stroke="#4a4a4a" stroke-width="0.85" />
<line x1="175.8" y1="445.6" x2="179.0" y2="442.4" stroke="#2a2a2a" stroke-width="1.0" />
<line x1="214.3" y1="445.6" x2="217.5" y2="442.4" stroke="#2a2a2a" stroke-width="1.0" />
<line x1="237.0" y1="445.6" x2="240.2" y2="442.4" stroke="#2a2a2a" stroke-width="1.0" />
<line x1="471.0" y1="445.6" x2="474.2" y2="442.4" stroke="#2a2a2a" stroke-width="1.0" />
<line x1="493.8" y1="445.6" x2="497.0" y2="442.4" stroke="#2a2a2a" stroke-width="1.0" />
<line x1="532.3" y1="445.6" x2="535.5" y2="442.4" stroke="#2a2a2a" stroke-width="1.0" />
<text x="196.7" y="442.4" font-family="Liberation Serif, serif" font-size="10.5" text-anchor="middle" fill="#333" font-weight="normal" >2300</text>
<text x="228.2" y="442.4" font-family="Liberation Serif, serif" font-size="10.5" text-anchor="middle" fill="#333" font-weight="normal" >1300</text>
<text x="484.0" y="442.4" font-family="Liberation Serif, serif" font-size="10.5" text-anchor="middle" fill="#333" font-weight="normal" >1300</text>
<text x="514.6" y="442.4" font-family="Liberation Serif, serif" font-size="10.5" text-anchor="middle" fill="#333" font-weight="normal" >2300</text>
<line x1="177.4" y1="457.6" x2="533.9" y2="457.6" stroke="#4a4a4a" stroke-width="0.85" />
<line x1="177.4" y1="471.3" x2="533.9" y2="471.3" stroke="#4a4a4a" stroke-width="0.85" />
<line x1="175.8" y1="459.2" x2="179.0" y2="456.0" stroke="#2a2a2a" stroke-width="1.0" />
<line x1="237.0" y1="459.2" x2="240.2" y2="456.0" stroke="#2a2a2a" stroke-width="1.0" />
<line x1="288.2" y1="459.2" x2="291.4" y2="456.0" stroke="#2a2a2a" stroke-width="1.0" />
<line x1="354.0" y1="459.2" x2="357.2" y2="456.0" stroke="#2a2a2a" stroke-width="1.0" />
<line x1="420.0" y1="459.2" x2="423.2" y2="456.0" stroke="#2a2a2a" stroke-width="1.0" />
<line x1="471.0" y1="459.2" x2="474.2" y2="456.0" stroke="#2a2a2a" stroke-width="1.0" />
<line x1="532.3" y1="459.2" x2="535.5" y2="456.0" stroke="#2a2a2a" stroke-width="1.0" />
<line x1="175.8" y1="472.9" x2="179.0" y2="469.7" stroke="#2a2a2a" stroke-width="1.0" />
<line x1="532.3" y1="472.9" x2="535.5" y2="469.7" stroke="#2a2a2a" stroke-width="1.0" />
<text x="208.3" y="455.8" font-family="Liberation Serif, serif" font-size="10.5" text-anchor="middle" fill="#333" font-weight="normal" >3600</text>
<text x="264.5" y="455.8" font-family="Liberation Serif, serif" font-size="10.5" text-anchor="middle" fill="#333" font-weight="normal" >3000</text>
<text x="323.0" y="455.8" font-family="Liberation Serif, serif" font-size="10.5" text-anchor="middle" fill="#333" font-weight="normal" >3900</text>
<text x="391.8" y="455.8" font-family="Liberation Serif, serif" font-size="10.5" text-anchor="middle" fill="#333" font-weight="normal" >3900</text>
<text x="447.4" y="455.8" font-family="Liberation Serif, serif" font-size="10.5" text-anchor="middle" fill="#333" font-weight="normal" >3000</text>
<text x="503.6" y="455.8" font-family="Liberation Serif, serif" font-size="10.5" text-anchor="middle" fill="#333" font-weight="normal" >3600</text>
<text x="355.6" y="469.6" font-family="Liberation Serif, serif" font-size="10.5" text-anchor="middle" fill="#333" font-weight="normal" >21000</text>
<line x1="121.0" y1="214.5" x2="121.0" y2="405.6" stroke="#4a4a4a" stroke-width="0.85" />
<line x1="119.4" y1="216.1" x2="122.6" y2="212.9" stroke="#2a2a2a" stroke-width="1.0" />
<line x1="119.4" y1="407.2" x2="122.6" y2="404.0" stroke="#2a2a2a" stroke-width="1.0" />
<line x1="135.6" y1="188.8" x2="135.6" y2="431.2" stroke="#4a4a4a" stroke-width="0.85" />
<line x1="134.0" y1="190.4" x2="137.2" y2="187.2" stroke="#2a2a2a" stroke-width="1.0" />
<line x1="134.0" y1="216.1" x2="137.2" y2="212.9" stroke="#2a2a2a" stroke-width="1.0" />
<line x1="134.0" y1="263.3" x2="137.2" y2="260.1" stroke="#2a2a2a" stroke-width="1.0" />
<line x1="134.0" y1="278.6" x2="137.2" y2="275.4" stroke="#2a2a2a" stroke-width="1.0" />
<line x1="134.0" y1="304.3" x2="137.2" y2="301.1" stroke="#2a2a2a" stroke-width="1.0" />
<line x1="134.0" y1="330.0" x2="137.2" y2="326.8" stroke="#2a2a2a" stroke-width="1.0" />
<line x1="134.0" y1="407.2" x2="137.2" y2="404.0" stroke="#2a2a2a" stroke-width="1.0" />
<line x1="134.0" y1="432.8" x2="137.2" y2="429.6" stroke="#2a2a2a" stroke-width="1.0" />
<text x="131.9" y="201.7" font-family="Liberation Serif, serif" font-size="10.5" text-anchor="middle" fill="#333" font-weight="normal" transform="rotate(-90 131.9 201.7)" >1500</text>
<text x="131.9" y="238.1" font-family="Liberation Serif, serif" font-size="10.5" text-anchor="middle" fill="#333" font-weight="normal" transform="rotate(-90 131.9 238.1)" >2700</text>
<text x="131.9" y="269.4" font-family="Liberation Serif, serif" font-size="10.5" text-anchor="middle" fill="#333" font-weight="normal" transform="rotate(-90 131.9 269.4)" >900</text>
<text x="131.9" y="289.9" font-family="Liberation Serif, serif" font-size="10.5" text-anchor="middle" fill="#333" font-weight="normal" transform="rotate(-90 131.9 289.9)" >1500</text>
<text x="131.9" y="315.5" font-family="Liberation Serif, serif" font-size="10.5" text-anchor="middle" fill="#333" font-weight="normal" transform="rotate(-90 131.9 315.5)" >1500</text>
<text x="131.9" y="367.0" font-family="Liberation Serif, serif" font-size="10.5" text-anchor="middle" fill="#333" font-weight="normal" transform="rotate(-90 131.9 367.0)" >4500</text>
<text x="131.9" y="418.4" font-family="Liberation Serif, serif" font-size="10.5" text-anchor="middle" fill="#333" font-weight="normal" transform="rotate(-90 131.9 418.4)" >1500</text>
<text x="118.2" y="308.0" font-family="Liberation Serif, serif" font-size="10.5" text-anchor="middle" fill="#333" font-weight="normal" transform="rotate(-90 118.2 308.0)" >11100</text>
<line x1="575.5" y1="188.8" x2="575.5" y2="431.2" stroke="#4a4a4a" stroke-width="0.85" />
<line x1="573.9" y1="190.4" x2="577.1" y2="187.2" stroke="#2a2a2a" stroke-width="1.0" />
<line x1="573.9" y1="216.1" x2="577.1" y2="212.9" stroke="#2a2a2a" stroke-width="1.0" />
<line x1="573.9" y1="263.3" x2="577.1" y2="260.1" stroke="#2a2a2a" stroke-width="1.0" />
<line x1="573.9" y1="278.6" x2="577.1" y2="275.4" stroke="#2a2a2a" stroke-width="1.0" />
<line x1="573.9" y1="304.3" x2="577.1" y2="301.1" stroke="#2a2a2a" stroke-width="1.0" />
<line x1="573.9" y1="330.0" x2="577.1" y2="326.8" stroke="#2a2a2a" stroke-width="1.0" />
<line x1="573.9" y1="407.2" x2="577.1" y2="404.0" stroke="#2a2a2a" stroke-width="1.0" />
<line x1="573.9" y1="432.8" x2="577.1" y2="429.6" stroke="#2a2a2a" stroke-width="1.0" />
<line x1="590.7" y1="178.5" x2="590.7" y2="405.6" stroke="#4a4a4a" stroke-width="0.85" />
<line x1="589.1" y1="180.1" x2="592.3" y2="176.9" stroke="#2a2a2a" stroke-width="1.0" />
<line x1="589.1" y1="216.1" x2="592.3" y2="212.9" stroke="#2a2a2a" stroke-width="1.0" />
<line x1="589.1" y1="407.2" x2="592.3" y2="404.0" stroke="#2a2a2a" stroke-width="1.0" />
<text x="573.5" y="201.7" font-family="Liberation Serif, serif" font-size="10.5" text-anchor="middle" fill="#333" font-weight="normal" transform="rotate(-90 573.5 201.7)" >1500</text>
<text x="573.5" y="238.1" font-family="Liberation Serif, serif" font-size="10.5" text-anchor="middle" fill="#333" font-weight="normal" transform="rotate(-90 573.5 238.1)" >2700</text>
<text x="573.5" y="269.4" font-family="Liberation Serif, serif" font-size="10.5" text-anchor="middle" fill="#333" font-weight="normal" transform="rotate(-90 573.5 269.4)" >900</text>
<text x="573.5" y="289.9" font-family="Liberation Serif, serif" font-size="10.5" text-anchor="middle" fill="#333" font-weight="normal" transform="rotate(-90 573.5 289.9)" >1500</text>
<text x="573.5" y="315.5" font-family="Liberation Serif, serif" font-size="10.5" text-anchor="middle" fill="#333" font-weight="normal" transform="rotate(-90 573.5 315.5)" >1500</text>
<text x="573.5" y="367.0" font-family="Liberation Serif, serif" font-size="10.5" text-anchor="middle" fill="#333" font-weight="normal" transform="rotate(-90 573.5 367.0)" >4500</text>
<text x="573.5" y="418.4" font-family="Liberation Serif, serif" font-size="10.5" text-anchor="middle" fill="#333" font-weight="normal" transform="rotate(-90 573.5 418.4)" >1500</text>
<text x="588.6" y="197.0" font-family="Liberation Serif, serif" font-size="10.5" text-anchor="middle" fill="#333" font-weight="normal" transform="rotate(-90 588.6 197.0)" >2100</text>
<text x="588.6" y="308.0" font-family="Liberation Serif, serif" font-size="10.5" text-anchor="middle" fill="#333" font-weight="normal" transform="rotate(-90 588.6 308.0)" >11100</text>
<circle cx="177.4" cy="121.5" r="6.3" fill="#fff" stroke="#4a4a4a" stroke-width="0.8"/>
<text x="177.4" y="125.0" font-family="Liberation Serif, serif" font-size="10.5" text-anchor="middle" fill="#333" font-weight="normal" >1</text>
<circle cx="238.6" cy="121.5" r="6.3" fill="#fff" stroke="#4a4a4a" stroke-width="0.8"/>
<text x="238.6" y="125.0" font-family="Liberation Serif, serif" font-size="10.5" text-anchor="middle" fill="#333" font-weight="normal" >2</text>
<circle cx="284.4" cy="121.5" r="6.3" fill="#fff" stroke="#4a4a4a" stroke-width="0.8"/>
<text x="284.4" y="125.0" font-family="Liberation Serif, serif" font-size="10.5" text-anchor="middle" fill="#333" font-weight="normal" >3</text>
<circle cx="335.4" cy="121.5" r="6.3" fill="#fff" stroke="#4a4a4a" stroke-width="0.8"/>
<text x="335.4" y="125.0" font-family="Liberation Serif, serif" font-size="10.5" text-anchor="middle" fill="#333" font-weight="normal" >5</text>
<circle cx="376.0" cy="121.5" r="6.3" fill="#fff" stroke="#4a4a4a" stroke-width="0.8"/>
<text x="376.0" y="125.0" font-family="Liberation Serif, serif" font-size="10.5" text-anchor="middle" fill="#333" font-weight="normal" >7</text>
<circle cx="427.0" cy="121.5" r="6.3" fill="#fff" stroke="#4a4a4a" stroke-width="0.8"/>
<text x="427.0" y="125.0" font-family="Liberation Serif, serif" font-size="10.5" text-anchor="middle" fill="#333" font-weight="normal" >9</text>
<circle cx="472.6" cy="121.5" r="6.3" fill="#fff" stroke="#4a4a4a" stroke-width="0.8"/>
<text x="472.6" y="125.0" font-family="Liberation Serif, serif" font-size="9.5" text-anchor="middle" fill="#333" font-weight="normal" letter-spacing="-0.5">10</text>
<circle cx="533.9" cy="121.5" r="6.3" fill="#fff" stroke="#4a4a4a" stroke-width="0.8"/>
<text x="533.9" y="125.0" font-family="Liberation Serif, serif" font-size="9.5" text-anchor="middle" fill="#333" font-weight="normal" letter-spacing="-0.5">11</text>
<circle cx="177.4" cy="485.7" r="6.3" fill="#fff" stroke="#4a4a4a" stroke-width="0.8"/>
<text x="177.4" y="489.2" font-family="Liberation Serif, serif" font-size="10.5" text-anchor="middle" fill="#333" font-weight="normal" >1</text>
<circle cx="238.6" cy="485.7" r="6.3" fill="#fff" stroke="#4a4a4a" stroke-width="0.8"/>
<text x="238.6" y="489.2" font-family="Liberation Serif, serif" font-size="10.5" text-anchor="middle" fill="#333" font-weight="normal" >2</text>
<circle cx="289.8" cy="485.7" r="6.3" fill="#fff" stroke="#4a4a4a" stroke-width="0.8"/>
<text x="289.8" y="489.2" font-family="Liberation Serif, serif" font-size="10.5" text-anchor="middle" fill="#333" font-weight="normal" >4</text>
<circle cx="355.6" cy="485.7" r="6.3" fill="#fff" stroke="#4a4a4a" stroke-width="0.8"/>
<text x="355.6" y="489.2" font-family="Liberation Serif, serif" font-size="10.5" text-anchor="middle" fill="#333" font-weight="normal" >6</text>
<circle cx="421.6" cy="485.7" r="6.3" fill="#fff" stroke="#4a4a4a" stroke-width="0.8"/>
<text x="421.6" y="489.2" font-family="Liberation Serif, serif" font-size="10.5" text-anchor="middle" fill="#333" font-weight="normal" >8</text>
<circle cx="472.6" cy="485.7" r="6.3" fill="#fff" stroke="#4a4a4a" stroke-width="0.8"/>
<text x="472.6" y="489.2" font-family="Liberation Serif, serif" font-size="9.5" text-anchor="middle" fill="#333" font-weight="normal" letter-spacing="-0.5">10</text>
<circle cx="533.9" cy="485.7" r="6.3" fill="#fff" stroke="#4a4a4a" stroke-width="0.8"/>
<text x="533.9" y="489.2" font-family="Liberation Serif, serif" font-size="9.5" text-anchor="middle" fill="#333" font-weight="normal" letter-spacing="-0.5">11</text>
<circle cx="108.4" cy="214.5" r="6.3" fill="#fff" stroke="#4a4a4a" stroke-width="0.8"/>
<text x="108.4" y="218.0" font-family="Liberation Serif, serif" font-size="10.5" text-anchor="middle" fill="#333" font-weight="normal" >D</text>
<circle cx="603.3" cy="214.5" r="6.3" fill="#fff" stroke="#4a4a4a" stroke-width="0.8"/>
<text x="603.3" y="218.0" font-family="Liberation Serif, serif" font-size="10.5" text-anchor="middle" fill="#333" font-weight="normal" >D</text>
<circle cx="108.4" cy="277.0" r="6.3" fill="#fff" stroke="#4a4a4a" stroke-width="0.8"/>
<text x="108.4" y="280.5" font-family="Liberation Serif, serif" font-size="10.5" text-anchor="middle" fill="#333" font-weight="normal" >C</text>
<circle cx="603.3" cy="277.0" r="6.3" fill="#fff" stroke="#4a4a4a" stroke-width="0.8"/>
<text x="603.3" y="280.5" font-family="Liberation Serif, serif" font-size="10.5" text-anchor="middle" fill="#333" font-weight="normal" >C</text>
<circle cx="108.4" cy="328.4" r="6.3" fill="#fff" stroke="#4a4a4a" stroke-width="0.8"/>
<text x="108.4" y="331.9" font-family="Liberation Serif, serif" font-size="10.5" text-anchor="middle" fill="#333" font-weight="normal" >B</text>
<circle cx="603.3" cy="328.4" r="6.3" fill="#fff" stroke="#4a4a4a" stroke-width="0.8"/>
<text x="603.3" y="331.9" font-family="Liberation Serif, serif" font-size="10.5" text-anchor="middle" fill="#333" font-weight="normal" >B</text>
<circle cx="108.4" cy="405.6" r="6.3" fill="#fff" stroke="#4a4a4a" stroke-width="0.8"/>
<text x="108.4" y="409.1" font-family="Liberation Serif, serif" font-size="10.5" text-anchor="middle" fill="#333" font-weight="normal" >A</text>
<circle cx="603.3" cy="405.6" r="6.3" fill="#fff" stroke="#4a4a4a" stroke-width="0.8"/>
<text x="603.3" y="409.1" font-family="Liberation Serif, serif" font-size="10.5" text-anchor="middle" fill="#333" font-weight="normal" >A</text>
</g>
<g id="texts">
<text x="303.4" y="523.5" font-family="'Liberation Serif', 'Noto Serif CJK SC', serif" font-size="10" fill="#5a5a5a">图</text>
<text x="318.4" y="523.3" font-family="Liberation Serif, serif" font-size="10.5" text-anchor="start" fill="#5a5a5a" font-weight="normal" letter-spacing="0.3">3-7</text>
<text x="348.6 360.75 372.9 385.05 397.2" y="523.5" font-family="'Liberation Serif', 'Noto Serif CJK SC', serif" font-size="10" fill="#5a5a5a">基础平面图</text>
<text x="122.6" y="564.0" font-family="Liberation Serif, serif" font-size="13.4" text-anchor="start" fill="#222" font-weight="bold" letter-spacing="3.2">(4)</text>
<text x="151.8 166.1 180.4 194.7 209 223.3 237.6" y="564.6" font-family="'Liberation Serif', 'Noto Serif CJK SC', serif" font-size="13.9" font-weight="bold" fill="#222">建筑物基础详图</text>
<text x="121.6" y="585.2" font-family="Liberation Serif, serif" font-size="12.4" text-anchor="start" fill="#383838" font-weight="normal" letter-spacing="3.6">a.</text>
<text x="139.7 154.2 168.7 183.2 197.7 212.2 226.7" y="585.3" font-family="'Liberation Serif', 'Noto Serif CJK SC', serif" font-size="12.9" fill="#383838">基础详图的形成</text>
<text x="257.1 272.22 287.34 302.46 317.58 332.7 347.82 362.94 378.06 393.18 408.3 423.42 438.54 453.66 468.78 483.9 499.02 514.14 529.26 544.38 559.5 574.62 589.74 604.86" y="585.3" font-family="'Liberation Serif', 'Noto Serif CJK SC', serif" font-size="12.9" fill="#383838">用较大的比例画出基础局部构造的图，如基础的细部尺</text>
<text x="92.5 107.3 121.1 136.1 151.1 164.9 179.9 194.9 209.9 224.9 239.9 254.9 269.9 285.1 300.1 315.2 330.3 345.1 358.1 373.2" y="606.5" font-family="'Liberation Serif', 'Noto Serif CJK SC', serif" font-size="12.9" fill="#383838">寸、形状、材料做法及基础埋置深度等，见图</text>
<text x="410.7" y="606.5" font-family="'Liberation Serif', 'Noto Serif CJK SC', serif" font-size="12.9" fill="#383838">。</text>
<text x="390.0" y="606.4" font-family="Liberation Serif, serif" font-size="12.4" text-anchor="start" fill="#383838" font-weight="normal" letter-spacing="0.5">3-8</text>
<text x="308.9" y="898.2" font-family="'Liberation Serif', 'Noto Serif CJK SC', serif" font-size="11" fill="#5a5a5a">图</text>
<text x="324.8" y="898.0" font-family="Liberation Serif, serif" font-size="11" text-anchor="start" fill="#5a5a5a" font-weight="normal" letter-spacing="0.5">3-8</text>
<text x="354.4 366.97 379.54 392.11" y="898.2" font-family="'Liberation Serif', 'Noto Serif CJK SC', serif" font-size="11" fill="#5a5a5a">基础详图</text>
<text x="354.9" y="927.2" font-family="Liberation Sans, sans-serif" font-size="17.6" fill="#222" text-anchor="middle" textLength="17.2" lengthAdjust="spacingAndGlyphs">51</text>
</g>
<g id="sections">
<g>
<path d="M138.8 654.4 L160.4 654.4 L160.4 735.8 L165.8 735.8 L165.8 747.0 L171.0 747.0 L171.0 753.4 L176.6 753.4 L176.6 763.7 L122.6 763.7 L122.6 753.4 L128.2 753.4 L128.2 747.0 L133.4 747.0 L133.4 735.8 L138.8 735.8 Z" fill="url(#hatch)" stroke="#2a2a2a" stroke-width="1.1" />
<rect x="138.8" y="674.2" width="21.6" height="22.4" fill="#fff" stroke="#444" stroke-width="0.9"/>
<rect x="140.7" y="676.0" width="17.9" height="19.1" fill="none" stroke="#151515" stroke-width="1.2"/>
<polygon points="140.7,676.0 144.9,676.0 140.7,680.2" fill="#151515"/>
<polygon points="158.6,676.0 154.4,676.0 158.6,680.2" fill="#151515"/>
<polygon points="140.7,695.1 144.9,695.1 140.7,690.9" fill="#151515"/>
<polygon points="158.6,695.1 154.4,695.1 158.6,690.9" fill="#151515"/>
<path d="M133.0 654.4 L148.1 654.4 L149.0 652.4 L150.4 656.4 L151.2 654.4 L165.0 654.4" fill="none" stroke="#4a4a4a" stroke-width="0.7" />
<rect x="105.3" y="763.7" width="88.6" height="27.7" fill="#fff" stroke="#2a2a2a" stroke-width="1.3"/>
<g><path d="M117.5 768.4 L119.0 765.2 L120.5 768.4 Z" fill="#555"/><circle cx="121.4" cy="765.3" r="0.45" fill="#666"/><path d="M130.1 768.2 L131.6 765.0 L133.1 768.2 Z" fill="#555"/><circle cx="134.0" cy="765.1" r="0.45" fill="#666"/><ellipse cx="145.0" cy="767.2" rx="1.0" ry="1.4" fill="none" stroke="#444" stroke-width="0.6"/><circle cx="147.4" cy="765.6" r="0.45" fill="#666"/><path d="M155.6 768.2 L157.1 765.0 L158.6 768.2 Z" fill="#555"/><circle cx="159.5" cy="765.1" r="0.45" fill="#666"/><path d="M168.7 768.4 L170.2 765.2 L171.7 768.4 Z" fill="#555"/><circle cx="172.6" cy="765.3" r="0.45" fill="#666"/><path d="M180.4 768.5 L181.9 765.3 L183.4 768.5 Z" fill="#555"/><circle cx="184.3" cy="765.4" r="0.45" fill="#666"/><path d="M117.6 777.8 L119.1 774.6 L120.6 777.8 Z" fill="#555"/><circle cx="121.5" cy="774.7" r="0.45" fill="#666"/><path d="M130.5 778.3 L132.0 775.1 L133.5 778.3 Z" fill="#555"/><circle cx="134.4" cy="775.2" r="0.45" fill="#666"/><ellipse cx="144.5" cy="776.5" rx="1.0" ry="1.4" fill="none" stroke="#444" stroke-width="0.6"/><circle cx="146.9" cy="774.9" r="0.45" fill="#666"/><path d="M155.3 777.7 L156.8 774.5 L158.3 777.7 Z" fill="#555"/><circle cx="159.2" cy="774.6" r="0.45" fill="#666"/><path d="M168.1 778.3 L169.6 775.1 L171.1 778.3 Z" fill="#555"/><circle cx="172.0" cy="775.2" r="0.45" fill="#666"/><path d="M180.5 777.7 L182.0 774.5 L183.5 777.7 Z" fill="#555"/><circle cx="184.4" cy="774.6" r="0.45" fill="#666"/><path d="M117.8 787.2 L119.3 784.0 L120.8 787.2 Z" fill="#555"/><circle cx="121.7" cy="784.1" r="0.45" fill="#666"/><path d="M130.6 786.9 L132.1 783.7 L133.6 786.9 Z" fill="#555"/><circle cx="134.5" cy="783.8" r="0.45" fill="#666"/><ellipse cx="144.8" cy="785.6" rx="1.0" ry="1.4" fill="none" stroke="#444" stroke-width="0.6"/><circle cx="147.2" cy="784.0" r="0.45" fill="#666"/><path d="M155.8 787.1 L157.3 783.9 L158.8 787.1 Z" fill="#555"/><circle cx="159.7" cy="784.0" r="0.45" fill="#666"/><path d="M168.0 786.9 L169.5 783.7 L171.0 786.9 Z" fill="#555"/><circle cx="171.9" cy="783.8" r="0.45" fill="#666"/><path d="M180.4 787.4 L181.9 784.2 L183.4 787.4 Z" fill="#555"/><circle cx="184.3" cy="784.3" r="0.45" fill="#666"/><circle cx="131.0" cy="780.7" r="0.35" fill="#888"/><circle cx="153.6" cy="784.4" r="0.5" fill="#888"/><circle cx="110.8" cy="784.5" r="0.4" fill="#888"/><circle cx="110.9" cy="789.2" r="0.4" fill="#888"/><circle cx="124.4" cy="786.8" r="0.35" fill="#888"/><circle cx="189.5" cy="766.6" r="0.35" fill="#888"/><circle cx="155.8" cy="771.5" r="0.4" fill="#888"/><circle cx="175.5" cy="789.4" r="0.5" fill="#888"/><circle cx="159.2" cy="770.2" r="0.4" fill="#888"/><circle cx="191.4" cy="781.4" r="0.35" fill="#888"/><circle cx="189.0" cy="766.5" r="0.35" fill="#888"/><circle cx="143.5" cy="780.4" r="0.35" fill="#888"/><circle cx="153.0" cy="787.6" r="0.4" fill="#888"/><circle cx="113.0" cy="778.5" r="0.4" fill="#888"/><circle cx="129.1" cy="789.3" r="0.4" fill="#888"/><circle cx="123.3" cy="780.3" r="0.35" fill="#888"/><circle cx="186.2" cy="772.5" r="0.35" fill="#888"/><circle cx="145.2" cy="785.5" r="0.35" fill="#888"/><circle cx="190.9" cy="766.2" r="0.35" fill="#888"/><circle cx="117.6" cy="772.7" r="0.5" fill="#888"/><circle cx="179.9" cy="772.0" r="0.4" fill="#888"/><circle cx="178.8" cy="766.4" r="0.4" fill="#888"/><circle cx="136.1" cy="773.6" r="0.35" fill="#888"/><circle cx="120.2" cy="779.2" r="0.5" fill="#888"/><circle cx="179.2" cy="781.0" r="0.4" fill="#888"/><circle cx="140.1" cy="768.9" r="0.4" fill="#888"/><circle cx="164.4" cy="771.5" r="0.35" fill="#888"/><circle cx="132.2" cy="776.5" r="0.5" fill="#888"/><circle cx="122.2" cy="767.0" r="0.5" fill="#888"/><circle cx="153.0" cy="786.5" r="0.5" fill="#888"/><circle cx="134.9" cy="767.1" r="0.4" fill="#888"/><circle cx="142.3" cy="789.3" r="0.5" fill="#888"/><circle cx="143.6" cy="784.0" r="0.4" fill="#888"/><circle cx="168.7" cy="774.2" r="0.4" fill="#888"/><circle cx="159.7" cy="772.5" r="0.35" fill="#888"/><circle cx="126.9" cy="781.2" r="0.5" fill="#888"/><circle cx="158.8" cy="774.5" r="0.5" fill="#888"/><circle cx="138.6" cy="783.3" r="0.35" fill="#888"/><circle cx="125.0" cy="773.7" r="0.35" fill="#888"/><circle cx="120.3" cy="781.3" r="0.5" fill="#888"/><circle cx="146.7" cy="772.5" r="0.5" fill="#888"/><circle cx="190.9" cy="768.8" r="0.4" fill="#888"/><circle cx="145.3" cy="777.3" r="0.5" fill="#888"/><circle cx="160.8" cy="783.9" r="0.5" fill="#888"/><circle cx="118.7" cy="780.6" r="0.35" fill="#888"/><circle cx="154.8" cy="772.9" r="0.4" fill="#888"/><circle cx="116.7" cy="776.6" r="0.35" fill="#888"/><circle cx="156.5" cy="784.5" r="0.5" fill="#888"/><circle cx="137.7" cy="780.5" r="0.4" fill="#888"/><circle cx="114.0" cy="769.7" r="0.4" fill="#888"/><circle cx="143.2" cy="775.3" r="0.35" fill="#888"/><circle cx="129.6" cy="771.0" r="0.5" fill="#888"/><circle cx="146.9" cy="780.0" r="0.5" fill="#888"/><circle cx="151.3" cy="773.1" r="0.4" fill="#888"/><circle cx="114.8" cy="770.1" r="0.4" fill="#888"/><circle cx="148.4" cy="786.0" r="0.4" fill="#888"/><circle cx="112.5" cy="778.5" r="0.5" fill="#888"/><circle cx="175.1" cy="779.8" r="0.5" fill="#888"/><circle cx="112.4" cy="770.2" r="0.5" fill="#888"/><circle cx="123.1" cy="783.6" r="0.5" fill="#888"/><circle cx="119.4" cy="776.9" r="0.4" fill="#888"/><circle cx="137.2" cy="779.7" r="0.35" fill="#888"/><circle cx="108.1" cy="774.3" r="0.5" fill="#888"/><circle cx="174.9" cy="787.5" r="0.35" fill="#888"/><circle cx="110.2" cy="787.8" r="0.4" fill="#888"/><circle cx="123.7" cy="769.9" r="0.4" fill="#888"/><circle cx="128.5" cy="774.2" r="0.35" fill="#888"/><circle cx="191.3" cy="780.1" r="0.4" fill="#888"/><circle cx="161.3" cy="768.1" r="0.35" fill="#888"/><circle cx="109.5" cy="782.0" r="0.35" fill="#888"/><circle cx="118.2" cy="786.1" r="0.5" fill="#888"/><circle cx="144.2" cy="770.9" r="0.4" fill="#888"/><circle cx="141.9" cy="785.9" r="0.5" fill="#888"/><circle cx="152.3" cy="773.6" r="0.4" fill="#888"/><circle cx="161.2" cy="781.5" r="0.35" fill="#888"/><circle cx="131.6" cy="780.1" r="0.4" fill="#888"/><circle cx="185.9" cy="787.9" r="0.4" fill="#888"/><circle cx="160.6" cy="786.6" r="0.35" fill="#888"/><circle cx="165.2" cy="765.9" r="0.35" fill="#888"/><circle cx="187.1" cy="768.7" r="0.5" fill="#888"/><circle cx="131.8" cy="775.5" r="0.35" fill="#888"/><circle cx="111.2" cy="788.6" r="0.5" fill="#888"/><circle cx="176.8" cy="776.7" r="0.35" fill="#888"/><circle cx="117.8" cy="784.3" r="0.35" fill="#888"/><circle cx="189.2" cy="766.6" r="0.4" fill="#888"/><circle cx="166.6" cy="789.2" r="0.35" fill="#888"/><circle cx="111.0" cy="768.7" r="0.4" fill="#888"/><circle cx="141.0" cy="780.5" r="0.4" fill="#888"/><circle cx="126.5" cy="776.2" r="0.35" fill="#888"/><circle cx="143.7" cy="783.1" r="0.35" fill="#888"/><circle cx="108.6" cy="781.5" r="0.35" fill="#888"/><circle cx="182.1" cy="776.7" r="0.4" fill="#888"/><circle cx="186.1" cy="777.8" r="0.4" fill="#888"/><circle cx="134.7" cy="768.5" r="0.5" fill="#888"/><circle cx="141.5" cy="782.0" r="0.5" fill="#888"/><circle cx="113.7" cy="777.6" r="0.5" fill="#888"/><circle cx="155.4" cy="769.6" r="0.35" fill="#888"/><circle cx="146.5" cy="774.5" r="0.35" fill="#888"/><circle cx="126.0" cy="771.0" r="0.35" fill="#888"/><circle cx="131.4" cy="782.6" r="0.35" fill="#888"/><circle cx="123.3" cy="775.0" r="0.35" fill="#888"/><circle cx="190.6" cy="769.4" r="0.4" fill="#888"/><circle cx="177.5" cy="766.0" r="0.4" fill="#888"/><circle cx="119.4" cy="788.4" r="0.4" fill="#888"/><circle cx="132.2" cy="778.7" r="0.4" fill="#888"/><circle cx="146.5" cy="773.6" r="0.5" fill="#888"/><circle cx="112.8" cy="788.5" r="0.35" fill="#888"/><circle cx="188.7" cy="766.7" r="0.5" fill="#888"/><circle cx="110.6" cy="783.0" r="0.35" fill="#888"/><circle cx="186.1" cy="769.8" r="0.5" fill="#888"/><circle cx="143.2" cy="775.9" r="0.35" fill="#888"/><circle cx="117.1" cy="786.8" r="0.5" fill="#888"/><circle cx="132.2" cy="785.1" r="0.4" fill="#888"/><circle cx="122.6" cy="785.7" r="0.35" fill="#888"/><circle cx="135.7" cy="767.7" r="0.4" fill="#888"/></g>
<line x1="149.6" y1="630.0" x2="149.6" y2="652.4" stroke="#4a4a4a" stroke-width="0.85" />
<line x1="149.6" y1="655.4" x2="149.6" y2="674.2" stroke="#4a4a4a" stroke-width="0.85" stroke-dasharray="9 2 2 2"/>
<line x1="149.6" y1="677.2" x2="149.6" y2="693.6" stroke="#777" stroke-width="0.5" />
<line x1="149.6" y1="696.6" x2="149.6" y2="791.4" stroke="#4a4a4a" stroke-width="0.85" stroke-dasharray="12 2 2 2"/>
<line x1="149.6" y1="791.4" x2="149.6" y2="836.4" stroke="#4a4a4a" stroke-width="0.7" />
<line x1="137.2" y1="642.0" x2="162.0" y2="642.0" stroke="#4a4a4a" stroke-width="0.85" />
<line x1="137.4" y1="643.4" x2="140.2" y2="640.6" stroke="#2a2a2a" stroke-width="0.9" />
<line x1="148.2" y1="643.4" x2="151.0" y2="640.6" stroke="#2a2a2a" stroke-width="0.9" />
<line x1="159.0" y1="643.4" x2="161.8" y2="640.6" stroke="#2a2a2a" stroke-width="0.9" />
<line x1="138.8" y1="640.5" x2="138.8" y2="654.4" stroke="#4a4a4a" stroke-width="0.85" />
<line x1="160.4" y1="640.5" x2="160.4" y2="654.4" stroke="#4a4a4a" stroke-width="0.85" />
<text x="139.0" y="638.2" font-family="Liberation Serif, serif" font-size="10.5" text-anchor="middle" fill="#333" font-weight="normal" >120</text>
<text x="159.4" y="638.2" font-family="Liberation Serif, serif" font-size="10.5" text-anchor="middle" fill="#333" font-weight="normal" >120</text>
<text x="165.2" y="670.8" font-family="Liberation Serif, serif" font-size="11" text-anchor="start" fill="#333" font-weight="normal" >4</text>
<g stroke="#333" stroke-width="0.8" fill="none"><ellipse cx="174.2" cy="667.2" rx="3.2" ry="2.4"/><line x1="174.2" y1="663.4" x2="174.2" y2="670.6"/><line x1="171.6" y1="670.6" x2="176.8" y2="670.6"/></g>
<text x="177.8" y="670.8" font-family="Liberation Serif, serif" font-size="11" text-anchor="start" fill="#333" font-weight="normal" >12</text>
<line x1="160.6" y1="674.7" x2="165.4" y2="670.2" stroke="#4a4a4a" stroke-width="0.85" />
<text x="137.8" y="683" font-family="Liberation Serif, serif" font-size="10.5" text-anchor="end" fill="#333"><tspan font-style="italic">&#966;</tspan><tspan dx="1.5">6@200</tspan></text>
<line x1="96.6" y1="686.1" x2="138.8" y2="686.1" stroke="#777" stroke-width="1.0" />
<line x1="104.7" y1="802.6" x2="104.7" y2="837.0" stroke="#4a4a4a" stroke-width="0.85" />
<line x1="194.1" y1="802.6" x2="194.1" y2="837.0" stroke="#4a4a4a" stroke-width="0.85" />
<line x1="102.1" y1="816.6" x2="196.7" y2="816.6" stroke="#4a4a4a" stroke-width="0.85" />
<line x1="102.1" y1="832.0" x2="196.7" y2="832.0" stroke="#4a4a4a" stroke-width="0.85" />
<line x1="103.2" y1="818.1" x2="106.2" y2="815.1" stroke="#2a2a2a" stroke-width="0.9" />
<line x1="148.1" y1="818.1" x2="151.1" y2="815.1" stroke="#2a2a2a" stroke-width="0.9" />
<line x1="192.6" y1="818.1" x2="195.6" y2="815.1" stroke="#2a2a2a" stroke-width="0.9" />
<line x1="103.2" y1="833.5" x2="106.2" y2="830.5" stroke="#2a2a2a" stroke-width="0.9" />
<line x1="192.6" y1="833.5" x2="195.6" y2="830.5" stroke="#2a2a2a" stroke-width="0.9" />
<text x="127.2" y="814.4" font-family="Liberation Serif, serif" font-size="10.5" text-anchor="middle" fill="#333" font-weight="normal" >500</text>
<text x="171.8" y="814.4" font-family="Liberation Serif, serif" font-size="10.5" text-anchor="middle" fill="#333" font-weight="normal" >500</text>
<text x="149.0" y="829.8" font-family="Liberation Serif, serif" font-size="10.5" text-anchor="middle" fill="#333" font-weight="normal" >1000</text>
<circle cx="149.6" cy="844.0" r="7.1" fill="#fff" stroke="#4a4a4a" stroke-width="0.8"/>
<text x="150.0" y="866.6" font-family="Liberation Serif, serif" font-size="10.5" text-anchor="middle" fill="#333" font-weight="normal" >1&#8212;1</text>
<line x1="222.6" y1="670.8" x2="222.6" y2="698.4" stroke="#4a4a4a" stroke-width="0.85" />
<line x1="221.2" y1="675.8" x2="224.0" y2="673.0" stroke="#2a2a2a" stroke-width="0.9" />
<line x1="221.2" y1="697.8" x2="224.0" y2="695.0" stroke="#2a2a2a" stroke-width="0.9" />
<line x1="206.0" y1="674.4" x2="241.2" y2="674.4" stroke="#666" stroke-width="0.85" />
<line x1="206.0" y1="696.4" x2="228.6" y2="696.4" stroke="#777" stroke-width="0.85" />
<text x="220.2" y="685.6" font-family="Liberation Serif, serif" font-size="10.5" text-anchor="middle" fill="#333" font-weight="normal" transform="rotate(-90 220.2 685.6)" >240</text>
<path d="M236.2 669.3 L246.2 669.3 L241.2 674.4 Z" fill="none" stroke="#4a4a4a" stroke-width="0.7" />
<line x1="236.2" y1="669.3" x2="267.2" y2="669.3" stroke="#666" stroke-width="0.8" />
<text x="253.0" y="667.4" font-family="Liberation Serif, serif" font-size="10.5" text-anchor="middle" fill="#333" font-weight="normal" >&#8722;0.600</text>
<line x1="222.6" y1="733.8" x2="222.6" y2="792.6" stroke="#4a4a4a" stroke-width="0.85" />
<line x1="221.2" y1="737.6" x2="224.0" y2="734.8" stroke="#2a2a2a" stroke-width="0.9" />
<line x1="206.6" y1="736.2" x2="229.0" y2="736.2" stroke="#888" stroke-width="0.85" stroke-dasharray="5 2"/>
<line x1="221.2" y1="748.3" x2="224.0" y2="745.5" stroke="#2a2a2a" stroke-width="0.9" />
<line x1="206.6" y1="746.9" x2="229.0" y2="746.9" stroke="#888" stroke-width="0.85" stroke-dasharray="5 2"/>
<line x1="221.2" y1="754.0" x2="224.0" y2="751.2" stroke="#2a2a2a" stroke-width="0.9" />
<line x1="206.6" y1="752.6" x2="229.0" y2="752.6" stroke="#888" stroke-width="0.85" stroke-dasharray="5 2"/>
<line x1="221.2" y1="765.2" x2="224.0" y2="762.4" stroke="#2a2a2a" stroke-width="0.9" />
<line x1="206.6" y1="763.8" x2="229.0" y2="763.8" stroke="#888" stroke-width="0.85" stroke-dasharray="5 2"/>
<line x1="221.2" y1="793.0" x2="224.0" y2="790.2" stroke="#2a2a2a" stroke-width="0.9" />
<text x="220.0" y="738.3" font-family="Liberation Serif, serif" font-size="10.5" text-anchor="middle" fill="#333" font-weight="normal" transform="rotate(-90 220.0 738.3)" >120</text>
<text x="238.0" y="749.4" font-family="Liberation Serif, serif" font-size="10.5" text-anchor="middle" fill="#333" font-weight="normal" transform="rotate(-90 238.0 749.4)" >60</text>
<text x="220.0" y="756.8" font-family="Liberation Serif, serif" font-size="10.5" text-anchor="middle" fill="#333" font-weight="normal" transform="rotate(-90 220.0 756.8)" >120</text>
<text x="220.0" y="779.7" font-family="Liberation Serif, serif" font-size="10.5" text-anchor="middle" fill="#333" font-weight="normal" transform="rotate(-90 220.0 779.7)" >300</text>
<line x1="206.6" y1="791.6" x2="253.0" y2="791.6" stroke="#666" stroke-width="0.8" />
<path d="M236.4 791.6 L241.3 797.3 L231.6 797.3 Z" fill="none" stroke="#4a4a4a" stroke-width="0.7" />
<line x1="231.6" y1="797.3" x2="261.9" y2="797.3" stroke="#666" stroke-width="0.8" />
<text x="247.7" y="806.4" font-family="Liberation Serif, serif" font-size="10.5" text-anchor="middle" fill="#333" font-weight="normal" >&#8722;2.400</text>
</g>
<g>
<path d="M318.4 654.4 L340.0 654.4 L340.0 747.8 L346.4 747.8 L346.4 753.6 L351.5 753.6 L351.5 763.7 L306.9 763.7 L306.9 753.6 L312.0 753.6 L312.0 747.8 L318.4 747.8 Z" fill="url(#hatch)" stroke="#2a2a2a" stroke-width="1.1" />
<rect x="318.4" y="674.2" width="21.6" height="22.4" fill="#fff" stroke="#444" stroke-width="0.9"/>
<rect x="320.3" y="676.0" width="17.9" height="19.1" fill="none" stroke="#151515" stroke-width="1.2"/>
<polygon points="320.3,676.0 324.5,676.0 320.3,680.2" fill="#151515"/>
<polygon points="338.2,676.0 334.0,676.0 338.2,680.2" fill="#151515"/>
<polygon points="320.3,695.1 324.5,695.1 320.3,690.9" fill="#151515"/>
<polygon points="338.2,695.1 334.0,695.1 338.2,690.9" fill="#151515"/>
<path d="M312.6 654.4 L327.7 654.4 L328.6 652.4 L330.0 656.4 L330.8 654.4 L344.6 654.4" fill="none" stroke="#4a4a4a" stroke-width="0.7" />
<rect x="288.5" y="763.7" width="81.4" height="27.7" fill="#fff" stroke="#2a2a2a" stroke-width="1.3"/>
<g><path d="M300.4 775.2 L301.9 772.0 L303.4 775.2 Z" fill="#555"/><circle cx="304.3" cy="772.1" r="0.45" fill="#666"/><path d="M311.4 775.3 L312.9 772.1 L314.4 775.3 Z" fill="#555"/><circle cx="315.3" cy="772.2" r="0.45" fill="#666"/><ellipse cx="324.3" cy="774.1" rx="1.0" ry="1.4" fill="none" stroke="#444" stroke-width="0.6"/><circle cx="326.7" cy="772.5" r="0.45" fill="#666"/><path d="M334.7 775.6 L336.2 772.4 L337.7 775.6 Z" fill="#555"/><circle cx="338.6" cy="772.5" r="0.45" fill="#666"/><path d="M346.3 775.0 L347.8 771.8 L349.3 775.0 Z" fill="#555"/><circle cx="350.2" cy="771.9" r="0.45" fill="#666"/><path d="M357.3 775.7 L358.8 772.5 L360.3 775.7 Z" fill="#555"/><circle cx="361.2" cy="772.6" r="0.45" fill="#666"/><path d="M300.0 785.6 L301.5 782.4 L303.0 785.6 Z" fill="#555"/><circle cx="303.9" cy="782.5" r="0.45" fill="#666"/><path d="M311.2 785.4 L312.7 782.2 L314.2 785.4 Z" fill="#555"/><circle cx="315.1" cy="782.3" r="0.45" fill="#666"/><ellipse cx="324.2" cy="783.4" rx="1.0" ry="1.4" fill="none" stroke="#444" stroke-width="0.6"/><circle cx="326.6" cy="781.8" r="0.45" fill="#666"/><path d="M334.4 784.9 L335.9 781.7 L337.4 784.9 Z" fill="#555"/><circle cx="338.3" cy="781.8" r="0.45" fill="#666"/><path d="M346.6 785.0 L348.1 781.8 L349.6 785.0 Z" fill="#555"/><circle cx="350.5" cy="781.9" r="0.45" fill="#666"/><path d="M357.8 784.9 L359.3 781.7 L360.8 784.9 Z" fill="#555"/><circle cx="361.7" cy="781.8" r="0.45" fill="#666"/><circle cx="317.5" cy="769.7" r="0.4" fill="#888"/><circle cx="321.7" cy="778.2" r="0.4" fill="#888"/><circle cx="329.2" cy="770.0" r="0.35" fill="#888"/><circle cx="304.4" cy="784.7" r="0.4" fill="#888"/><circle cx="290.9" cy="777.3" r="0.4" fill="#888"/><circle cx="346.4" cy="788.9" r="0.35" fill="#888"/><circle cx="319.9" cy="777.6" r="0.4" fill="#888"/><circle cx="318.5" cy="783.9" r="0.4" fill="#888"/><circle cx="335.2" cy="775.1" r="0.4" fill="#888"/><circle cx="358.8" cy="784.6" r="0.35" fill="#888"/><circle cx="356.2" cy="765.9" r="0.4" fill="#888"/><circle cx="312.4" cy="788.0" r="0.35" fill="#888"/><circle cx="360.7" cy="766.0" r="0.35" fill="#888"/><circle cx="303.9" cy="786.1" r="0.4" fill="#888"/><circle cx="359.8" cy="768.7" r="0.35" fill="#888"/><circle cx="295.7" cy="787.4" r="0.35" fill="#888"/><circle cx="291.3" cy="779.4" r="0.35" fill="#888"/><circle cx="352.5" cy="784.2" r="0.35" fill="#888"/><circle cx="307.4" cy="780.8" r="0.35" fill="#888"/><circle cx="365.0" cy="769.7" r="0.4" fill="#888"/><circle cx="330.7" cy="775.5" r="0.5" fill="#888"/><circle cx="300.2" cy="780.9" r="0.35" fill="#888"/><circle cx="292.4" cy="785.5" r="0.35" fill="#888"/><circle cx="362.4" cy="774.7" r="0.35" fill="#888"/><circle cx="312.0" cy="778.7" r="0.35" fill="#888"/><circle cx="363.6" cy="777.3" r="0.4" fill="#888"/><circle cx="328.9" cy="788.8" r="0.5" fill="#888"/><circle cx="311.5" cy="783.1" r="0.5" fill="#888"/><circle cx="291.3" cy="779.8" r="0.35" fill="#888"/><circle cx="357.9" cy="780.9" r="0.4" fill="#888"/><circle cx="352.4" cy="786.1" r="0.5" fill="#888"/><circle cx="307.3" cy="767.3" r="0.4" fill="#888"/><circle cx="330.8" cy="782.8" r="0.4" fill="#888"/><circle cx="295.5" cy="774.3" r="0.35" fill="#888"/><circle cx="293.7" cy="770.0" r="0.35" fill="#888"/><circle cx="305.2" cy="765.8" r="0.35" fill="#888"/><circle cx="345.8" cy="771.0" r="0.4" fill="#888"/><circle cx="316.0" cy="766.0" r="0.4" fill="#888"/><circle cx="297.7" cy="777.2" r="0.4" fill="#888"/><circle cx="347.5" cy="783.1" r="0.4" fill="#888"/><circle cx="337.7" cy="787.8" r="0.35" fill="#888"/><circle cx="345.4" cy="769.8" r="0.35" fill="#888"/><circle cx="327.3" cy="788.1" r="0.4" fill="#888"/><circle cx="296.6" cy="786.6" r="0.4" fill="#888"/><circle cx="310.4" cy="786.8" r="0.5" fill="#888"/><circle cx="361.9" cy="773.8" r="0.5" fill="#888"/><circle cx="309.3" cy="783.3" r="0.35" fill="#888"/><circle cx="311.2" cy="785.3" r="0.5" fill="#888"/><circle cx="366.5" cy="783.4" r="0.5" fill="#888"/><circle cx="293.0" cy="782.5" r="0.5" fill="#888"/><circle cx="296.5" cy="778.5" r="0.35" fill="#888"/><circle cx="318.4" cy="775.7" r="0.5" fill="#888"/><circle cx="312.4" cy="766.5" r="0.35" fill="#888"/><circle cx="300.8" cy="785.1" r="0.4" fill="#888"/><circle cx="316.8" cy="768.0" r="0.35" fill="#888"/><circle cx="342.6" cy="774.7" r="0.4" fill="#888"/><circle cx="351.3" cy="771.5" r="0.35" fill="#888"/><circle cx="330.6" cy="783.2" r="0.35" fill="#888"/><circle cx="305.7" cy="778.9" r="0.35" fill="#888"/><circle cx="300.2" cy="778.7" r="0.4" fill="#888"/><circle cx="308.2" cy="766.6" r="0.4" fill="#888"/><circle cx="353.8" cy="777.1" r="0.5" fill="#888"/><circle cx="312.8" cy="778.2" r="0.35" fill="#888"/><circle cx="361.1" cy="766.0" r="0.35" fill="#888"/><circle cx="358.8" cy="785.6" r="0.35" fill="#888"/><circle cx="359.8" cy="771.3" r="0.4" fill="#888"/><circle cx="330.5" cy="786.1" r="0.35" fill="#888"/><circle cx="367.7" cy="780.0" r="0.5" fill="#888"/><circle cx="340.8" cy="781.9" r="0.5" fill="#888"/><circle cx="318.3" cy="774.3" r="0.35" fill="#888"/><circle cx="365.2" cy="778.2" r="0.4" fill="#888"/><circle cx="298.8" cy="767.5" r="0.4" fill="#888"/><circle cx="334.9" cy="785.7" r="0.4" fill="#888"/><circle cx="325.0" cy="778.9" r="0.35" fill="#888"/><circle cx="359.7" cy="769.7" r="0.5" fill="#888"/><circle cx="352.1" cy="784.0" r="0.4" fill="#888"/><circle cx="300.1" cy="767.6" r="0.4" fill="#888"/><circle cx="332.4" cy="774.2" r="0.4" fill="#888"/><circle cx="305.3" cy="782.1" r="0.4" fill="#888"/><circle cx="305.4" cy="773.3" r="0.4" fill="#888"/><circle cx="334.0" cy="787.9" r="0.4" fill="#888"/><circle cx="334.9" cy="770.6" r="0.4" fill="#888"/><circle cx="303.5" cy="769.4" r="0.5" fill="#888"/><circle cx="311.9" cy="772.2" r="0.35" fill="#888"/><circle cx="335.6" cy="788.4" r="0.5" fill="#888"/><circle cx="327.0" cy="779.5" r="0.4" fill="#888"/><circle cx="305.2" cy="775.1" r="0.4" fill="#888"/><circle cx="352.4" cy="769.7" r="0.35" fill="#888"/><circle cx="322.1" cy="780.2" r="0.35" fill="#888"/><circle cx="324.6" cy="786.0" r="0.35" fill="#888"/><circle cx="323.9" cy="772.6" r="0.4" fill="#888"/><circle cx="307.5" cy="769.3" r="0.4" fill="#888"/><circle cx="312.9" cy="785.4" r="0.4" fill="#888"/><circle cx="317.9" cy="770.4" r="0.4" fill="#888"/><circle cx="360.4" cy="766.3" r="0.35" fill="#888"/><circle cx="348.5" cy="770.9" r="0.35" fill="#888"/><circle cx="320.8" cy="770.0" r="0.5" fill="#888"/><circle cx="338.0" cy="770.8" r="0.5" fill="#888"/><circle cx="295.8" cy="766.3" r="0.35" fill="#888"/><circle cx="346.9" cy="778.5" r="0.35" fill="#888"/><circle cx="292.7" cy="778.5" r="0.5" fill="#888"/><circle cx="302.5" cy="770.8" r="0.35" fill="#888"/><circle cx="345.9" cy="779.2" r="0.35" fill="#888"/><circle cx="305.2" cy="783.7" r="0.35" fill="#888"/><circle cx="346.8" cy="786.2" r="0.35" fill="#888"/></g>
<line x1="329.2" y1="630.0" x2="329.2" y2="652.4" stroke="#4a4a4a" stroke-width="0.85" />
<line x1="329.2" y1="655.4" x2="329.2" y2="674.2" stroke="#4a4a4a" stroke-width="0.85" stroke-dasharray="9 2 2 2"/>
<line x1="329.2" y1="677.2" x2="329.2" y2="693.6" stroke="#777" stroke-width="0.5" />
<line x1="329.2" y1="696.6" x2="329.2" y2="791.4" stroke="#4a4a4a" stroke-width="0.85" stroke-dasharray="12 2 2 2"/>
<line x1="329.2" y1="791.4" x2="329.2" y2="836.4" stroke="#4a4a4a" stroke-width="0.7" />
<line x1="316.8" y1="642.0" x2="341.6" y2="642.0" stroke="#4a4a4a" stroke-width="0.85" />
<line x1="317.0" y1="643.4" x2="319.8" y2="640.6" stroke="#2a2a2a" stroke-width="0.9" />
<line x1="327.8" y1="643.4" x2="330.6" y2="640.6" stroke="#2a2a2a" stroke-width="0.9" />
<line x1="338.6" y1="643.4" x2="341.4" y2="640.6" stroke="#2a2a2a" stroke-width="0.9" />
<line x1="318.4" y1="640.5" x2="318.4" y2="654.4" stroke="#4a4a4a" stroke-width="0.85" />
<line x1="340.0" y1="640.5" x2="340.0" y2="654.4" stroke="#4a4a4a" stroke-width="0.85" />
<text x="318.6" y="638.2" font-family="Liberation Serif, serif" font-size="10.5" text-anchor="middle" fill="#333" font-weight="normal" >120</text>
<text x="339.0" y="638.2" font-family="Liberation Serif, serif" font-size="10.5" text-anchor="middle" fill="#333" font-weight="normal" >120</text>
<text x="348.0" y="670.8" font-family="Liberation Serif, serif" font-size="11" text-anchor="start" fill="#333" font-weight="normal" >4</text>
<g stroke="#333" stroke-width="0.8" fill="none"><ellipse cx="357.0" cy="667.2" rx="3.2" ry="2.4"/><line x1="357.0" y1="663.4" x2="357.0" y2="670.6"/><line x1="354.4" y1="670.6" x2="359.6" y2="670.6"/></g>
<text x="360.6" y="670.8" font-family="Liberation Serif, serif" font-size="11" text-anchor="start" fill="#333" font-weight="normal" >12</text>
<line x1="340.2" y1="674.7" x2="347.6" y2="668.6" stroke="#4a4a4a" stroke-width="0.85" />
<text x="317.4" y="683" font-family="Liberation Serif, serif" font-size="10.5" text-anchor="end" fill="#333"><tspan font-style="italic">&#966;</tspan><tspan dx="1.5">6@200</tspan></text>
<line x1="276.2" y1="686.1" x2="318.4" y2="686.1" stroke="#777" stroke-width="1.0" />
<line x1="287.9" y1="802.6" x2="287.9" y2="837.0" stroke="#4a4a4a" stroke-width="0.85" />
<line x1="370.1" y1="802.6" x2="370.1" y2="837.0" stroke="#4a4a4a" stroke-width="0.85" />
<line x1="285.3" y1="816.6" x2="372.7" y2="816.6" stroke="#4a4a4a" stroke-width="0.85" />
<line x1="285.3" y1="832.0" x2="372.7" y2="832.0" stroke="#4a4a4a" stroke-width="0.85" />
<line x1="286.4" y1="818.1" x2="289.4" y2="815.1" stroke="#2a2a2a" stroke-width="0.9" />
<line x1="327.7" y1="818.1" x2="330.7" y2="815.1" stroke="#2a2a2a" stroke-width="0.9" />
<line x1="368.6" y1="818.1" x2="371.6" y2="815.1" stroke="#2a2a2a" stroke-width="0.9" />
<line x1="286.4" y1="833.5" x2="289.4" y2="830.5" stroke="#2a2a2a" stroke-width="0.9" />
<line x1="368.6" y1="833.5" x2="371.6" y2="830.5" stroke="#2a2a2a" stroke-width="0.9" />
<text x="308.5" y="814.4" font-family="Liberation Serif, serif" font-size="10.5" text-anchor="middle" fill="#333" font-weight="normal" >450</text>
<text x="349.6" y="814.4" font-family="Liberation Serif, serif" font-size="10.5" text-anchor="middle" fill="#333" font-weight="normal" >450</text>
<text x="328.6" y="829.8" font-family="Liberation Serif, serif" font-size="10.5" text-anchor="middle" fill="#333" font-weight="normal" >900</text>
<circle cx="329.2" cy="844.0" r="7.1" fill="#fff" stroke="#4a4a4a" stroke-width="0.8"/>
<text x="329.6" y="866.6" font-family="Liberation Serif, serif" font-size="10.5" text-anchor="middle" fill="#333" font-weight="normal" >2&#8212;2</text>
<line x1="402.2" y1="670.8" x2="402.2" y2="698.4" stroke="#4a4a4a" stroke-width="0.85" />
<line x1="400.8" y1="675.8" x2="403.6" y2="673.0" stroke="#2a2a2a" stroke-width="0.9" />
<line x1="400.8" y1="697.8" x2="403.6" y2="695.0" stroke="#2a2a2a" stroke-width="0.9" />
<line x1="385.6" y1="674.4" x2="420.8" y2="674.4" stroke="#666" stroke-width="0.85" />
<line x1="385.6" y1="696.4" x2="408.2" y2="696.4" stroke="#777" stroke-width="0.85" />
<text x="399.8" y="685.6" font-family="Liberation Serif, serif" font-size="10.5" text-anchor="middle" fill="#333" font-weight="normal" transform="rotate(-90 399.8 685.6)" >240</text>
<path d="M415.8 669.3 L425.8 669.3 L420.8 674.4 Z" fill="none" stroke="#4a4a4a" stroke-width="0.7" />
<line x1="415.8" y1="669.3" x2="446.8" y2="669.3" stroke="#666" stroke-width="0.8" />
<text x="432.6" y="667.4" font-family="Liberation Serif, serif" font-size="10.5" text-anchor="middle" fill="#333" font-weight="normal" >&#8722;0.600</text>
<line x1="402.2" y1="733.8" x2="402.2" y2="792.6" stroke="#4a4a4a" stroke-width="0.85" />
<line x1="400.8" y1="737.6" x2="403.6" y2="734.8" stroke="#2a2a2a" stroke-width="0.9" />
<line x1="386.2" y1="736.2" x2="408.6" y2="736.2" stroke="#888" stroke-width="0.85" stroke-dasharray="5 2"/>
<line x1="400.8" y1="748.3" x2="403.6" y2="745.5" stroke="#2a2a2a" stroke-width="0.9" />
<line x1="386.2" y1="746.9" x2="408.6" y2="746.9" stroke="#888" stroke-width="0.85" stroke-dasharray="5 2"/>
<line x1="400.8" y1="754.0" x2="403.6" y2="751.2" stroke="#2a2a2a" stroke-width="0.9" />
<line x1="386.2" y1="752.6" x2="408.6" y2="752.6" stroke="#888" stroke-width="0.85" stroke-dasharray="5 2"/>
<line x1="400.8" y1="765.2" x2="403.6" y2="762.4" stroke="#2a2a2a" stroke-width="0.9" />
<line x1="386.2" y1="763.8" x2="408.6" y2="763.8" stroke="#888" stroke-width="0.85" stroke-dasharray="5 2"/>
<line x1="400.8" y1="793.0" x2="403.6" y2="790.2" stroke="#2a2a2a" stroke-width="0.9" />
<text x="399.6" y="738.3" font-family="Liberation Serif, serif" font-size="10.5" text-anchor="middle" fill="#333" font-weight="normal" transform="rotate(-90 399.6 738.3)" >120</text>
<text x="417.6" y="749.4" font-family="Liberation Serif, serif" font-size="10.5" text-anchor="middle" fill="#333" font-weight="normal" transform="rotate(-90 417.6 749.4)" >60</text>
<text x="399.6" y="756.8" font-family="Liberation Serif, serif" font-size="10.5" text-anchor="middle" fill="#333" font-weight="normal" transform="rotate(-90 399.6 756.8)" >120</text>
<text x="399.6" y="779.7" font-family="Liberation Serif, serif" font-size="10.5" text-anchor="middle" fill="#333" font-weight="normal" transform="rotate(-90 399.6 779.7)" >300</text>
<line x1="386.2" y1="791.6" x2="432.6" y2="791.6" stroke="#666" stroke-width="0.8" />
<path d="M416.0 791.6 L420.9 797.3 L411.2 797.3 Z" fill="none" stroke="#4a4a4a" stroke-width="0.7" />
<line x1="411.2" y1="797.3" x2="441.5" y2="797.3" stroke="#666" stroke-width="0.8" />
<text x="427.3" y="806.4" font-family="Liberation Serif, serif" font-size="10.5" text-anchor="middle" fill="#333" font-weight="normal" >&#8722;2.400</text>
</g>
<g>
<path d="M498.1 654.4 L519.7 654.4 L519.7 752.9 L525.6 752.9 L525.6 763.7 L492.2 763.7 L492.2 752.9 L498.1 752.9 Z" fill="url(#hatch)" stroke="#2a2a2a" stroke-width="1.1" />
<rect x="498.1" y="674.2" width="21.6" height="22.4" fill="#fff" stroke="#444" stroke-width="0.9"/>
<rect x="500.0" y="676.0" width="17.9" height="19.1" fill="none" stroke="#151515" stroke-width="1.2"/>
<polygon points="500.0,676.0 504.2,676.0 500.0,680.2" fill="#151515"/>
<polygon points="517.9,676.0 513.7,676.0 517.9,680.2" fill="#151515"/>
<polygon points="500.0,695.1 504.2,695.1 500.0,690.9" fill="#151515"/>
<polygon points="517.9,695.1 513.7,695.1 517.9,690.9" fill="#151515"/>
<path d="M492.3 654.4 L507.4 654.4 L508.3 652.4 L509.7 656.4 L510.5 654.4 L524.3 654.4" fill="none" stroke="#4a4a4a" stroke-width="0.7" />
<rect x="472.8" y="763.7" width="72.2" height="27.7" fill="#fff" stroke="#2a2a2a" stroke-width="1.3"/>
<g><path d="M482.9 775.5 L484.4 772.3 L485.9 775.5 Z" fill="#555"/><circle cx="486.8" cy="772.4" r="0.45" fill="#666"/><path d="M493.1 775.1 L494.6 771.9 L496.1 775.1 Z" fill="#555"/><circle cx="497.0" cy="772.0" r="0.45" fill="#666"/><ellipse cx="504.7" cy="773.6" rx="1.0" ry="1.4" fill="none" stroke="#444" stroke-width="0.6"/><circle cx="507.1" cy="772.0" r="0.45" fill="#666"/><path d="M513.8 775.3 L515.3 772.1 L516.8 775.3 Z" fill="#555"/><circle cx="517.7" cy="772.2" r="0.45" fill="#666"/><path d="M524.4 775.5 L525.9 772.3 L527.4 775.5 Z" fill="#555"/><circle cx="528.3" cy="772.4" r="0.45" fill="#666"/><path d="M534.4 775.3 L535.9 772.1 L537.4 775.3 Z" fill="#555"/><circle cx="538.3" cy="772.2" r="0.45" fill="#666"/><path d="M482.9 785.5 L484.4 782.3 L485.9 785.5 Z" fill="#555"/><circle cx="486.8" cy="782.4" r="0.45" fill="#666"/><path d="M493.0 785.5 L494.5 782.3 L496.0 785.5 Z" fill="#555"/><circle cx="496.9" cy="782.4" r="0.45" fill="#666"/><ellipse cx="505.4" cy="783.6" rx="1.0" ry="1.4" fill="none" stroke="#444" stroke-width="0.6"/><circle cx="507.8" cy="782.0" r="0.45" fill="#666"/><path d="M513.9 784.9 L515.4 781.7 L516.9 784.9 Z" fill="#555"/><circle cx="517.8" cy="781.8" r="0.45" fill="#666"/><path d="M524.4 785.4 L525.9 782.2 L527.4 785.4 Z" fill="#555"/><circle cx="528.3" cy="782.3" r="0.45" fill="#666"/><path d="M533.5 785.3 L535.0 782.1 L536.5 785.3 Z" fill="#555"/><circle cx="537.4" cy="782.2" r="0.45" fill="#666"/><circle cx="489.6" cy="784.6" r="0.5" fill="#888"/><circle cx="540.8" cy="773.8" r="0.5" fill="#888"/><circle cx="493.0" cy="781.7" r="0.35" fill="#888"/><circle cx="518.6" cy="787.4" r="0.4" fill="#888"/><circle cx="480.3" cy="767.9" r="0.4" fill="#888"/><circle cx="499.6" cy="773.9" r="0.4" fill="#888"/><circle cx="527.9" cy="787.2" r="0.5" fill="#888"/><circle cx="484.3" cy="783.4" r="0.4" fill="#888"/><circle cx="528.3" cy="783.2" r="0.4" fill="#888"/><circle cx="489.7" cy="767.9" r="0.4" fill="#888"/><circle cx="517.4" cy="770.0" r="0.5" fill="#888"/><circle cx="487.6" cy="774.8" r="0.4" fill="#888"/><circle cx="497.2" cy="766.6" r="0.4" fill="#888"/><circle cx="512.4" cy="782.3" r="0.5" fill="#888"/><circle cx="536.1" cy="776.8" r="0.4" fill="#888"/><circle cx="479.1" cy="781.1" r="0.4" fill="#888"/><circle cx="522.3" cy="770.2" r="0.5" fill="#888"/><circle cx="534.7" cy="774.4" r="0.35" fill="#888"/><circle cx="512.4" cy="766.4" r="0.4" fill="#888"/><circle cx="502.5" cy="770.4" r="0.4" fill="#888"/><circle cx="524.6" cy="779.8" r="0.35" fill="#888"/><circle cx="513.5" cy="772.0" r="0.4" fill="#888"/><circle cx="479.0" cy="769.5" r="0.35" fill="#888"/><circle cx="539.5" cy="768.9" r="0.5" fill="#888"/><circle cx="480.0" cy="788.4" r="0.4" fill="#888"/><circle cx="515.5" cy="767.9" r="0.5" fill="#888"/><circle cx="535.8" cy="773.3" r="0.4" fill="#888"/><circle cx="508.3" cy="765.9" r="0.4" fill="#888"/><circle cx="534.2" cy="768.2" r="0.35" fill="#888"/><circle cx="516.0" cy="768.9" r="0.35" fill="#888"/><circle cx="515.6" cy="776.0" r="0.5" fill="#888"/><circle cx="505.3" cy="766.1" r="0.35" fill="#888"/><circle cx="542.6" cy="779.9" r="0.35" fill="#888"/><circle cx="533.3" cy="773.7" r="0.4" fill="#888"/><circle cx="515.1" cy="773.6" r="0.4" fill="#888"/><circle cx="537.8" cy="788.0" r="0.5" fill="#888"/><circle cx="521.6" cy="771.6" r="0.35" fill="#888"/><circle cx="510.2" cy="777.0" r="0.5" fill="#888"/><circle cx="518.0" cy="766.0" r="0.4" fill="#888"/><circle cx="513.6" cy="786.5" r="0.35" fill="#888"/><circle cx="532.7" cy="767.8" r="0.4" fill="#888"/><circle cx="521.0" cy="785.2" r="0.35" fill="#888"/><circle cx="531.5" cy="768.9" r="0.35" fill="#888"/><circle cx="499.6" cy="766.5" r="0.35" fill="#888"/><circle cx="486.8" cy="775.1" r="0.35" fill="#888"/><circle cx="481.9" cy="777.3" r="0.4" fill="#888"/><circle cx="541.7" cy="785.2" r="0.5" fill="#888"/><circle cx="519.9" cy="786.7" r="0.4" fill="#888"/><circle cx="535.0" cy="781.6" r="0.4" fill="#888"/><circle cx="537.4" cy="778.3" r="0.5" fill="#888"/><circle cx="505.5" cy="774.2" r="0.4" fill="#888"/><circle cx="502.3" cy="777.2" r="0.5" fill="#888"/><circle cx="524.8" cy="766.7" r="0.4" fill="#888"/><circle cx="499.9" cy="781.5" r="0.4" fill="#888"/><circle cx="481.0" cy="782.7" r="0.5" fill="#888"/><circle cx="485.3" cy="784.1" r="0.5" fill="#888"/><circle cx="486.5" cy="779.7" r="0.5" fill="#888"/><circle cx="512.7" cy="784.4" r="0.5" fill="#888"/><circle cx="482.9" cy="777.8" r="0.5" fill="#888"/><circle cx="522.3" cy="778.8" r="0.4" fill="#888"/><circle cx="516.3" cy="783.7" r="0.35" fill="#888"/><circle cx="490.2" cy="782.4" r="0.35" fill="#888"/><circle cx="485.3" cy="773.5" r="0.4" fill="#888"/><circle cx="539.1" cy="768.6" r="0.5" fill="#888"/><circle cx="521.3" cy="787.1" r="0.5" fill="#888"/><circle cx="507.8" cy="775.2" r="0.35" fill="#888"/><circle cx="514.8" cy="789.3" r="0.4" fill="#888"/><circle cx="539.0" cy="765.8" r="0.5" fill="#888"/><circle cx="518.5" cy="772.5" r="0.5" fill="#888"/><circle cx="486.5" cy="785.5" r="0.35" fill="#888"/><circle cx="508.4" cy="774.8" r="0.4" fill="#888"/><circle cx="538.5" cy="773.7" r="0.4" fill="#888"/><circle cx="508.2" cy="785.7" r="0.5" fill="#888"/><circle cx="516.3" cy="788.5" r="0.35" fill="#888"/><circle cx="496.9" cy="777.4" r="0.35" fill="#888"/><circle cx="541.0" cy="778.7" r="0.35" fill="#888"/><circle cx="493.7" cy="787.9" r="0.5" fill="#888"/><circle cx="494.4" cy="779.2" r="0.4" fill="#888"/><circle cx="484.8" cy="774.8" r="0.4" fill="#888"/><circle cx="521.8" cy="778.4" r="0.4" fill="#888"/><circle cx="509.5" cy="778.1" r="0.35" fill="#888"/><circle cx="542.5" cy="785.4" r="0.4" fill="#888"/><circle cx="495.9" cy="769.1" r="0.5" fill="#888"/><circle cx="525.2" cy="766.3" r="0.4" fill="#888"/><circle cx="491.0" cy="786.1" r="0.4" fill="#888"/><circle cx="528.8" cy="779.0" r="0.5" fill="#888"/><circle cx="513.7" cy="784.8" r="0.35" fill="#888"/><circle cx="498.9" cy="771.0" r="0.5" fill="#888"/><circle cx="487.1" cy="773.7" r="0.4" fill="#888"/><circle cx="506.6" cy="783.6" r="0.35" fill="#888"/><circle cx="514.1" cy="770.2" r="0.5" fill="#888"/><circle cx="524.2" cy="772.1" r="0.35" fill="#888"/><circle cx="538.6" cy="788.7" r="0.4" fill="#888"/></g>
<line x1="508.9" y1="630.0" x2="508.9" y2="652.4" stroke="#4a4a4a" stroke-width="0.85" />
<line x1="508.9" y1="655.4" x2="508.9" y2="674.2" stroke="#4a4a4a" stroke-width="0.85" stroke-dasharray="9 2 2 2"/>
<line x1="508.9" y1="677.2" x2="508.9" y2="693.6" stroke="#777" stroke-width="0.5" />
<line x1="508.9" y1="696.6" x2="508.9" y2="791.4" stroke="#4a4a4a" stroke-width="0.85" stroke-dasharray="12 2 2 2"/>
<line x1="508.9" y1="791.4" x2="508.9" y2="836.4" stroke="#4a4a4a" stroke-width="0.7" />
<line x1="496.5" y1="642.0" x2="521.3" y2="642.0" stroke="#4a4a4a" stroke-width="0.85" />
<line x1="496.7" y1="643.4" x2="499.5" y2="640.6" stroke="#2a2a2a" stroke-width="0.9" />
<line x1="507.5" y1="643.4" x2="510.3" y2="640.6" stroke="#2a2a2a" stroke-width="0.9" />
<line x1="518.3" y1="643.4" x2="521.1" y2="640.6" stroke="#2a2a2a" stroke-width="0.9" />
<line x1="498.1" y1="640.5" x2="498.1" y2="654.4" stroke="#4a4a4a" stroke-width="0.85" />
<line x1="519.7" y1="640.5" x2="519.7" y2="654.4" stroke="#4a4a4a" stroke-width="0.85" />
<text x="498.3" y="638.2" font-family="Liberation Serif, serif" font-size="10.5" text-anchor="middle" fill="#333" font-weight="normal" >120</text>
<text x="518.7" y="638.2" font-family="Liberation Serif, serif" font-size="10.5" text-anchor="middle" fill="#333" font-weight="normal" >120</text>
<text x="529.5" y="670.8" font-family="Liberation Serif, serif" font-size="11" text-anchor="start" fill="#333" font-weight="normal" >4</text>
<g stroke="#333" stroke-width="0.8" fill="none"><ellipse cx="538.5" cy="667.2" rx="3.2" ry="2.4"/><line x1="538.5" y1="663.4" x2="538.5" y2="670.6"/><line x1="535.9" y1="670.6" x2="541.1" y2="670.6"/></g>
<text x="542.1" y="670.8" font-family="Liberation Serif, serif" font-size="11" text-anchor="start" fill="#333" font-weight="normal" >12</text>
<line x1="519.9" y1="674.7" x2="528.7" y2="667.7" stroke="#4a4a4a" stroke-width="0.85" />
<text x="497.1" y="683" font-family="Liberation Serif, serif" font-size="10.5" text-anchor="end" fill="#333"><tspan font-style="italic">&#966;</tspan><tspan dx="1.5">6@200</tspan></text>
<line x1="455.9" y1="686.1" x2="498.1" y2="686.1" stroke="#777" stroke-width="1.0" />
<line x1="472.2" y1="802.6" x2="472.2" y2="837.0" stroke="#4a4a4a" stroke-width="0.85" />
<line x1="545.2" y1="802.6" x2="545.2" y2="837.0" stroke="#4a4a4a" stroke-width="0.85" />
<line x1="469.6" y1="816.6" x2="547.8" y2="816.6" stroke="#4a4a4a" stroke-width="0.85" />
<line x1="469.6" y1="832.0" x2="547.8" y2="832.0" stroke="#4a4a4a" stroke-width="0.85" />
<line x1="470.7" y1="818.1" x2="473.7" y2="815.1" stroke="#2a2a2a" stroke-width="0.9" />
<line x1="507.4" y1="818.1" x2="510.4" y2="815.1" stroke="#2a2a2a" stroke-width="0.9" />
<line x1="543.7" y1="818.1" x2="546.7" y2="815.1" stroke="#2a2a2a" stroke-width="0.9" />
<line x1="470.7" y1="833.5" x2="473.7" y2="830.5" stroke="#2a2a2a" stroke-width="0.9" />
<line x1="543.7" y1="833.5" x2="546.7" y2="830.5" stroke="#2a2a2a" stroke-width="0.9" />
<text x="490.5" y="814.4" font-family="Liberation Serif, serif" font-size="10.5" text-anchor="middle" fill="#333" font-weight="normal" >400</text>
<text x="527.0" y="814.4" font-family="Liberation Serif, serif" font-size="10.5" text-anchor="middle" fill="#333" font-weight="normal" >400</text>
<text x="508.3" y="829.8" font-family="Liberation Serif, serif" font-size="10.5" text-anchor="middle" fill="#333" font-weight="normal" >800</text>
<circle cx="508.9" cy="844.0" r="7.1" fill="#fff" stroke="#4a4a4a" stroke-width="0.8"/>
<text x="509.3" y="866.6" font-family="Liberation Serif, serif" font-size="10.5" text-anchor="middle" fill="#333" font-weight="normal" >3&#8212;3</text>
<line x1="573.7" y1="670.8" x2="573.7" y2="698.4" stroke="#4a4a4a" stroke-width="0.85" />
<line x1="572.3" y1="675.8" x2="575.1" y2="673.0" stroke="#2a2a2a" stroke-width="0.9" />
<line x1="572.3" y1="697.8" x2="575.1" y2="695.0" stroke="#2a2a2a" stroke-width="0.9" />
<line x1="557.1" y1="674.4" x2="592.0" y2="674.4" stroke="#666" stroke-width="0.85" />
<line x1="557.1" y1="696.4" x2="579.7" y2="696.4" stroke="#777" stroke-width="0.85" />
<text x="571.3" y="685.6" font-family="Liberation Serif, serif" font-size="10.5" text-anchor="middle" fill="#333" font-weight="normal" transform="rotate(-90 571.3 685.6)" >240</text>
<path d="M587.0 669.3 L597.0 669.3 L592.0 674.4 Z" fill="none" stroke="#4a4a4a" stroke-width="0.7" />
<line x1="587.0" y1="669.3" x2="618.0" y2="669.3" stroke="#666" stroke-width="0.8" />
<text x="603.8" y="667.4" font-family="Liberation Serif, serif" font-size="10.5" text-anchor="middle" fill="#333" font-weight="normal" >&#8722;0.600</text>
<line x1="573.7" y1="750.5" x2="573.7" y2="792.6" stroke="#4a4a4a" stroke-width="0.85" />
<line x1="572.3" y1="754.3" x2="575.1" y2="751.5" stroke="#2a2a2a" stroke-width="0.9" />
<line x1="557.7" y1="752.9" x2="580.1" y2="752.9" stroke="#888" stroke-width="0.85" stroke-dasharray="5 2"/>
<line x1="572.3" y1="765.2" x2="575.1" y2="762.4" stroke="#2a2a2a" stroke-width="0.9" />
<line x1="557.7" y1="763.8" x2="580.1" y2="763.8" stroke="#888" stroke-width="0.85" stroke-dasharray="5 2"/>
<line x1="572.3" y1="793.0" x2="575.1" y2="790.2" stroke="#2a2a2a" stroke-width="0.9" />
<text x="571.1" y="758.0" font-family="Liberation Serif, serif" font-size="10.5" text-anchor="middle" fill="#333" font-weight="normal" transform="rotate(-90 571.1 758.0)" >120</text>
<text x="571.1" y="779.7" font-family="Liberation Serif, serif" font-size="10.5" text-anchor="middle" fill="#333" font-weight="normal" transform="rotate(-90 571.1 779.7)" >300</text>
<line x1="557.7" y1="791.6" x2="604.1" y2="791.6" stroke="#666" stroke-width="0.8" />
<path d="M587.5 791.6 L592.4 797.3 L582.7 797.3 Z" fill="none" stroke="#4a4a4a" stroke-width="0.7" />
<line x1="582.7" y1="797.3" x2="613.0" y2="797.3" stroke="#666" stroke-width="0.8" />
<text x="598.8" y="806.4" font-family="Liberation Serif, serif" font-size="10.5" text-anchor="middle" fill="#333" font-weight="normal" >&#8722;2.400</text>
</g>
<line x1="122.6" y1="714.2" x2="122.6" y2="727.8" stroke="#777" stroke-width="0.8" />
<line x1="121.4" y1="716.6" x2="123.8" y2="714.2" stroke="#2a2a2a" stroke-width="0.8" />
<line x1="128.0" y1="714.2" x2="128.0" y2="727.8" stroke="#777" stroke-width="0.8" />
<line x1="126.8" y1="716.6" x2="129.2" y2="714.2" stroke="#2a2a2a" stroke-width="0.8" />
<line x1="133.4" y1="714.2" x2="133.4" y2="727.8" stroke="#777" stroke-width="0.8" />
<line x1="132.2" y1="716.6" x2="134.6" y2="714.2" stroke="#2a2a2a" stroke-width="0.8" />
<line x1="120.1" y1="715.4" x2="138.8" y2="715.4" stroke="#555" stroke-width="0.6" />
<text x="126.4" y="703.9" font-family="Liberation Serif, serif" font-size="10.5" text-anchor="middle" fill="#333" font-weight="normal" >60</text>
<text x="120.8" y="712.5" font-family="Liberation Serif, serif" font-size="10.5" text-anchor="middle" fill="#333" font-weight="normal" >60</text>
<text x="133.5" y="712.5" font-family="Liberation Serif, serif" font-size="10.5" text-anchor="middle" fill="#333" font-weight="normal" >60</text>
<line x1="165.6" y1="714.2" x2="165.6" y2="727.8" stroke="#777" stroke-width="0.8" />
<line x1="164.4" y1="716.6" x2="166.8" y2="714.2" stroke="#2a2a2a" stroke-width="0.8" />
<line x1="171.0" y1="714.2" x2="171.0" y2="727.8" stroke="#777" stroke-width="0.8" />
<line x1="169.8" y1="716.6" x2="172.2" y2="714.2" stroke="#2a2a2a" stroke-width="0.8" />
<line x1="176.4" y1="714.2" x2="176.4" y2="727.8" stroke="#777" stroke-width="0.8" />
<line x1="175.2" y1="716.6" x2="177.6" y2="714.2" stroke="#2a2a2a" stroke-width="0.8" />
<line x1="160.4" y1="715.4" x2="178.9" y2="715.4" stroke="#555" stroke-width="0.6" />
<text x="172.1" y="703.9" font-family="Liberation Serif, serif" font-size="10.5" text-anchor="middle" fill="#333" font-weight="normal" >60</text>
<text x="166.3" y="712.5" font-family="Liberation Serif, serif" font-size="10.5" text-anchor="middle" fill="#333" font-weight="normal" >60</text>
<text x="178.7" y="712.5" font-family="Liberation Serif, serif" font-size="10.5" text-anchor="middle" fill="#333" font-weight="normal" >60</text>
<line x1="307.0" y1="715.1" x2="307.0" y2="728.0" stroke="#777" stroke-width="0.8" />
<line x1="305.8" y1="717.5" x2="308.2" y2="715.1" stroke="#2a2a2a" stroke-width="0.8" />
<line x1="312.3" y1="715.1" x2="312.3" y2="728.0" stroke="#777" stroke-width="0.8" />
<line x1="311.1" y1="717.5" x2="313.5" y2="715.1" stroke="#2a2a2a" stroke-width="0.8" />
<line x1="304.5" y1="716.3" x2="318.4" y2="716.3" stroke="#555" stroke-width="0.6" />
<text x="305.7" y="704.0" font-family="Liberation Serif, serif" font-size="10.5" text-anchor="middle" fill="#333" font-weight="normal" >60</text>
<text x="311.4" y="712.2" font-family="Liberation Serif, serif" font-size="10.5" text-anchor="middle" fill="#333" font-weight="normal" >60</text>
<line x1="345.9" y1="715.1" x2="345.9" y2="728.0" stroke="#777" stroke-width="0.8" />
<line x1="344.7" y1="717.5" x2="347.1" y2="715.1" stroke="#2a2a2a" stroke-width="0.8" />
<line x1="351.0" y1="715.1" x2="351.0" y2="728.0" stroke="#777" stroke-width="0.8" />
<line x1="349.8" y1="717.5" x2="352.2" y2="715.1" stroke="#2a2a2a" stroke-width="0.8" />
<line x1="340.0" y1="716.3" x2="353.5" y2="716.3" stroke="#555" stroke-width="0.6" />
<text x="352.3" y="704.0" font-family="Liberation Serif, serif" font-size="10.5" text-anchor="middle" fill="#333" font-weight="normal" >60</text>
<text x="346.2" y="712.2" font-family="Liberation Serif, serif" font-size="10.5" text-anchor="middle" fill="#333" font-weight="normal" >60</text>
<line x1="492.6" y1="722.2" x2="492.6" y2="733.0" stroke="#777" stroke-width="0.8" />
<line x1="491.4" y1="724.6" x2="493.8" y2="722.2" stroke="#2a2a2a" stroke-width="0.8" />
<line x1="490.1" y1="723.4" x2="498.1" y2="723.4" stroke="#555" stroke-width="0.6" />
<text x="490.9" y="717.7" font-family="Liberation Serif, serif" font-size="10.5" text-anchor="middle" fill="#333" font-weight="normal" >60</text>
<line x1="525.3" y1="722.2" x2="525.3" y2="733.0" stroke="#777" stroke-width="0.8" />
<line x1="524.1" y1="724.6" x2="526.5" y2="722.2" stroke="#2a2a2a" stroke-width="0.8" />
<line x1="519.7" y1="723.4" x2="527.8" y2="723.4" stroke="#555" stroke-width="0.6" />
<text x="527.1" y="717.7" font-family="Liberation Serif, serif" font-size="10.5" text-anchor="middle" fill="#333" font-weight="normal" >60</text>
<line x1="137.1" y1="704.3" x2="162.1" y2="704.3" stroke="#555" stroke-width="0.5" />
<path d="M149.6 699.3 L148.4 705.3 L150.8 703.8 L149.6 709.3" fill="none" stroke="#4a4a4a" stroke-width="0.85" />
<line x1="316.7" y1="704.3" x2="341.7" y2="704.3" stroke="#555" stroke-width="0.5" />
<path d="M329.2 699.3 L328.0 705.3 L330.4 703.8 L329.2 709.3" fill="none" stroke="#4a4a4a" stroke-width="0.85" />
<line x1="496.4" y1="707.0" x2="521.4" y2="707.0" stroke="#555" stroke-width="0.5" />
<path d="M508.9 702.0 L507.7 708.0 L510.1 706.5 L508.9 712.0" fill="none" stroke="#4a4a4a" stroke-width="0.85" />
</g>
</g>
</svg>
</body></html>
